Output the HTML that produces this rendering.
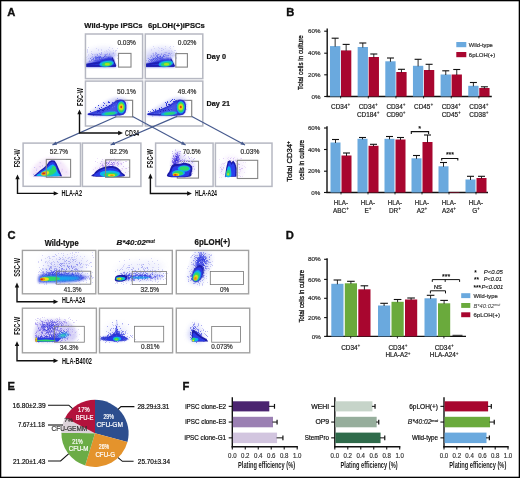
<!DOCTYPE html>
<html><head><meta charset="utf-8"><style>
html,body{margin:0;padding:0;background:#fff;}
svg{display:block;will-change:transform;}
text{font-family:"Liberation Sans", sans-serif;}
</style></head><body>
<svg width="520" height="478" viewBox="0 0 520 478">
<rect x="0" y="0" width="520" height="478" fill="#fff"/>
<text x="7.30" y="16.10" font-size="11.2" stroke="#111" stroke-width="0.35" font-weight="bold" fill="#111">A</text>
<text x="84.30" y="28.20" font-size="7.6" stroke="#111" stroke-width="0.2" font-weight="bold" fill="#111" textLength="58.30" lengthAdjust="spacingAndGlyphs">Wild-type iPSCs</text>
<text x="148.00" y="28.20" font-size="7.6" stroke="#111" stroke-width="0.2" font-weight="bold" fill="#111" textLength="56.90" lengthAdjust="spacingAndGlyphs">6pLOH(+)iPSCs</text>
<text x="206.60" y="58.80" font-size="7.6" stroke="#111" stroke-width="0.2" font-weight="bold" fill="#111" textLength="19.40" lengthAdjust="spacingAndGlyphs">Day 0</text>
<text x="206.60" y="105.80" font-size="7.6" stroke="#111" stroke-width="0.2" font-weight="bold" fill="#111" textLength="23.40" lengthAdjust="spacingAndGlyphs">Day 21</text>
<rect x="116.00" y="100.30" width="16.60" height="16.60" fill="none" stroke="#858585" stroke-width="1.2"/>
<rect x="176.80" y="100.40" width="14.90" height="16.30" fill="none" stroke="#858585" stroke-width="1.2"/>
<rect x="177.30" y="161.30" width="21.20" height="16.80" fill="none" stroke="#858585" stroke-width="1.1"/>
<defs><filter id="f30" x="-30%" y="-30%" width="160%" height="160%"><feGaussianBlur stdDeviation="0.3"/></filter><filter id="f35" x="-30%" y="-30%" width="160%" height="160%"><feGaussianBlur stdDeviation="0.35"/></filter><filter id="f40" x="-30%" y="-30%" width="160%" height="160%"><feGaussianBlur stdDeviation="0.4"/></filter><filter id="f45" x="-30%" y="-30%" width="160%" height="160%"><feGaussianBlur stdDeviation="0.45"/></filter><filter id="f50" x="-30%" y="-30%" width="160%" height="160%"><feGaussianBlur stdDeviation="0.5"/></filter><filter id="f55" x="-30%" y="-30%" width="160%" height="160%"><feGaussianBlur stdDeviation="0.55"/></filter><filter id="f60" x="-30%" y="-30%" width="160%" height="160%"><feGaussianBlur stdDeviation="0.6"/></filter><filter id="f65" x="-30%" y="-30%" width="160%" height="160%"><feGaussianBlur stdDeviation="0.65"/></filter><filter id="f70" x="-30%" y="-30%" width="160%" height="160%"><feGaussianBlur stdDeviation="0.7"/></filter><filter id="f80" x="-30%" y="-30%" width="160%" height="160%"><feGaussianBlur stdDeviation="0.8"/></filter><filter id="f90" x="-30%" y="-30%" width="160%" height="160%"><feGaussianBlur stdDeviation="0.9"/></filter><filter id="f110" x="-30%" y="-30%" width="160%" height="160%"><feGaussianBlur stdDeviation="1.1"/></filter><filter id="f140" x="-30%" y="-30%" width="160%" height="160%"><feGaussianBlur stdDeviation="1.4"/></filter><filter id="f150" x="-30%" y="-30%" width="160%" height="160%"><feGaussianBlur stdDeviation="1.5"/></filter><filter id="f160" x="-30%" y="-30%" width="160%" height="160%"><feGaussianBlur stdDeviation="1.6"/></filter><filter id="f170" x="-30%" y="-30%" width="160%" height="160%"><feGaussianBlur stdDeviation="1.7"/></filter><filter id="f180" x="-30%" y="-30%" width="160%" height="160%"><feGaussianBlur stdDeviation="1.8"/></filter><filter id="f200" x="-30%" y="-30%" width="160%" height="160%"><feGaussianBlur stdDeviation="2.0"/></filter><filter id="f210" x="-30%" y="-30%" width="160%" height="160%"><feGaussianBlur stdDeviation="2.1"/></filter><filter id="f220" x="-30%" y="-30%" width="160%" height="160%"><feGaussianBlur stdDeviation="2.2"/></filter><filter id="f240" x="-30%" y="-30%" width="160%" height="160%"><feGaussianBlur stdDeviation="2.4"/></filter><filter id="f300" x="-30%" y="-30%" width="160%" height="160%"><feGaussianBlur stdDeviation="3.0"/></filter><filter id="f360" x="-30%" y="-30%" width="160%" height="160%"><feGaussianBlur stdDeviation="3.6"/></filter><filter id="f390" x="-30%" y="-30%" width="160%" height="160%"><feGaussianBlur stdDeviation="3.9"/></filter></defs>
<ellipse cx="104.0" cy="57.5" rx="13.5" ry="4.199999999999999" fill="#7078ea" transform="rotate(-15 104.0 57.5)" opacity="0.41" filter="url(#f170)"/><ellipse cx="100.0" cy="52.5" rx="15.0" ry="5.4" fill="#7078ea" transform="rotate(-8 100.0 52.5)" opacity="0.13" filter="url(#f220)"/><ellipse cx="93.0" cy="59.0" rx="9.0" ry="4.5" fill="#7078ea" transform="rotate(-20 93.0 59.0)" opacity="0.28" filter="url(#f180)"/><g filter="url(#f70)"><path fill="#d6d6f8" d="M88 47h1v1h-1zM109 47h1v1h-1zM96 48h1v1h-1zM112 48h1v1h-1zM117 48h1v1h-1zM87 49h1v1h-1zM98 49h1v1h-1zM101 49h1v1h-1zM108 49h1v1h-1zM87 50h1v1h-1zM98 50h1v1h-1zM101 50h1v1h-1zM106 50h1v1h-1zM109 50h1v1h-1zM113 50h1v1h-1zM115 50h1v1h-1zM116 50h1v1h-1zM87 51h1v1h-1zM91 51h1v1h-1zM104 51h1v1h-1zM106 51h1v1h-1zM107 51h1v1h-1zM110 51h1v1h-1zM115 51h1v1h-1zM87 52h1v1h-1zM105 52h1v1h-1zM111 52h1v1h-1zM96 53h1v1h-1zM108 53h1v1h-1zM115 53h1v1h-1zM88 54h1v1h-1zM93 54h1v1h-1zM98 54h1v1h-1zM88 55h1v1h-1zM90 55h1v1h-1zM91 55h1v1h-1zM93 55h1v1h-1zM117 55h1v1h-1zM87 56h1v1h-1zM86 57h1v1h-1zM112 57h1v1h-1zM117 58h1v1h-1zM86 59h1v1h-1zM114 59h1v1h-1zM86 60h1v1h-1zM103 60h1v1h-1zM105 60h1v1h-1zM107 60h1v1h-1zM108 60h1v1h-1zM114 60h1v1h-1zM86 62h1v1h-1zM89 62h1v1h-1zM90 62h1v1h-1zM91 62h1v1h-1zM92 62h1v1h-1zM94 63h1v1h-1zM96 63h1v1h-1zM100 63h1v1h-1zM95 64h1v1h-1zM94 65h1v1h-1zM94 66h1v1h-1z"/><path fill="#acaef2" d="M101 52h1v1h-1zM99 53h1v1h-1zM101 53h1v1h-1zM107 53h1v1h-1zM109 53h1v1h-1zM113 53h1v1h-1zM92 54h1v1h-1zM101 54h1v1h-1zM104 54h1v1h-1zM107 54h1v1h-1zM99 55h1v1h-1zM104 55h1v1h-1zM92 56h1v1h-1zM97 56h1v1h-1zM91 57h1v1h-1zM92 57h1v1h-1zM93 57h1v1h-1zM102 58h1v1h-1zM94 59h1v1h-1zM89 60h1v1h-1zM90 61h1v1h-1zM94 62h1v1h-1z"/><path fill="#c2c4f6" d="M113 52h1v1h-1zM91 53h1v1h-1zM112 53h1v1h-1zM94 54h1v1h-1zM95 54h1v1h-1zM96 54h1v1h-1zM102 54h1v1h-1zM108 54h1v1h-1zM112 54h1v1h-1zM94 55h1v1h-1zM96 55h1v1h-1zM101 55h1v1h-1zM114 55h1v1h-1zM106 57h1v1h-1zM88 58h1v1h-1zM111 58h1v1h-1zM100 60h1v1h-1zM102 60h1v1h-1zM104 60h1v1h-1zM106 60h1v1h-1zM88 61h1v1h-1zM91 61h1v1h-1zM96 61h1v1h-1zM91 63h1v1h-1z"/><path fill="#9498f0" d="M97 54h1v1h-1zM100 54h1v1h-1zM105 54h1v1h-1zM106 54h1v1h-1zM109 54h1v1h-1zM97 55h1v1h-1zM96 56h1v1h-1zM105 56h1v1h-1zM106 56h1v1h-1zM94 57h1v1h-1zM102 57h1v1h-1zM105 58h1v1h-1zM91 59h1v1h-1zM98 59h1v1h-1zM100 59h1v1h-1zM101 59h1v1h-1zM93 60h1v1h-1zM98 60h1v1h-1zM89 61h1v1h-1z"/><path fill="#7c80ec" d="M105 55h1v1h-1zM95 56h1v1h-1zM98 56h1v1h-1zM99 56h1v1h-1zM101 57h1v1h-1zM108 57h1v1h-1zM90 58h1v1h-1zM97 58h1v1h-1zM98 58h1v1h-1zM101 58h1v1h-1zM92 59h1v1h-1zM93 59h1v1h-1zM95 59h1v1h-1zM96 59h1v1h-1zM97 59h1v1h-1zM102 59h1v1h-1zM91 60h1v1h-1zM94 60h1v1h-1zM96 60h1v1h-1zM97 60h1v1h-1z"/><path fill="#646aea" d="M100 56h1v1h-1zM104 56h1v1h-1zM95 57h1v1h-1zM96 57h1v1h-1zM98 57h1v1h-1zM100 57h1v1h-1zM103 57h1v1h-1zM93 58h1v1h-1zM95 58h1v1h-1zM96 58h1v1h-1zM99 58h1v1h-1zM99 59h1v1h-1zM95 60h1v1h-1z"/><path fill="#4e56e4" d="M97 57h1v1h-1zM99 57h1v1h-1z"/></g><path d="M86.10 66.70L86.10 63.70L92.10 61.90L98.10 59.90L103.10 58.00L106.30 57.40L109.50 56.20L111.90 57.10L113.50 59.70L115.60 65.70L116.00 66.70Z" fill="#3038dc" filter="url(#f80)"/><path d="M86.10 66.70L86.10 64.30L98.10 61.50L107.30 58.80L111.90 58.80L115.40 65.90L116.00 66.70Z" fill="#2830d4" filter="url(#f60)"/><path d="M86.10 65.90L116.00 66.00" stroke="#1a1aa8" stroke-width="1.5" filter="url(#f45)"/><path d="M86.10 64.50L100.10 62.70" stroke="#1a1aa8" stroke-width="1.6" opacity="0.8" filter="url(#f60)"/><path d="M112.10 57.40L115.70 66.00" stroke="#1a1aa8" stroke-width="1.3" filter="url(#f45)"/><ellipse cx="106.6" cy="63.699999999999996" rx="7.2" ry="3.0" fill="#10b4ee" transform="rotate(-8 106.6 63.699999999999996)" filter="url(#f65)"/><ellipse cx="107.0" cy="64.1" rx="5.2" ry="2.1" fill="#2ed868" transform="rotate(-8 107.0 64.1)" filter="url(#f60)"/><ellipse cx="107.3" cy="64.3" rx="2.7" ry="1.2" fill="#a8e224" filter="url(#f50)"/>
<ellipse cx="162.60000000000002" cy="57.5" rx="13.5" ry="4.199999999999999" fill="#7078ea" transform="rotate(-15 162.60000000000002 57.5)" opacity="0.41" filter="url(#f170)"/><ellipse cx="158.60000000000002" cy="52.5" rx="15.0" ry="5.4" fill="#7078ea" transform="rotate(-8 158.60000000000002 52.5)" opacity="0.21" filter="url(#f220)"/><ellipse cx="151.60000000000002" cy="59.0" rx="9.0" ry="4.5" fill="#7078ea" transform="rotate(-20 151.60000000000002 59.0)" opacity="0.28" filter="url(#f180)"/><g filter="url(#f70)"><path fill="#d6d6f8" d="M153 46h1v1h-1zM165 46h1v1h-1zM170 46h1v1h-1zM173 46h1v1h-1zM158 47h1v1h-1zM169 47h1v1h-1zM154 48h1v1h-1zM159 48h1v1h-1zM162 48h1v1h-1zM165 48h1v1h-1zM170 48h1v1h-1zM151 49h1v1h-1zM151 50h1v1h-1zM158 50h1v1h-1zM162 50h1v1h-1zM168 50h1v1h-1zM169 50h1v1h-1zM171 50h1v1h-1zM174 50h1v1h-1zM175 50h1v1h-1zM159 51h1v1h-1zM165 51h1v1h-1zM171 51h1v1h-1zM172 51h1v1h-1zM153 52h1v1h-1zM158 52h1v1h-1zM159 52h1v1h-1zM174 52h1v1h-1zM176 52h1v1h-1zM145 53h1v1h-1zM154 53h1v1h-1zM173 53h1v1h-1zM145 54h1v1h-1zM150 54h1v1h-1zM171 54h1v1h-1zM172 54h1v1h-1zM147 55h1v1h-1zM148 55h1v1h-1zM174 55h1v1h-1zM175 55h1v1h-1zM149 56h1v1h-1zM169 56h1v1h-1zM171 56h1v1h-1zM176 57h1v1h-1zM169 58h1v1h-1zM176 58h1v1h-1zM167 59h1v1h-1zM170 59h1v1h-1zM166 60h1v1h-1zM172 60h1v1h-1zM165 61h1v1h-1zM168 61h1v1h-1zM152 62h1v1h-1zM153 62h1v1h-1zM154 62h1v1h-1zM158 62h1v1h-1zM159 62h1v1h-1zM161 62h1v1h-1zM162 62h1v1h-1zM145 63h1v1h-1zM149 63h1v1h-1zM154 64h1v1h-1zM145 65h1v1h-1zM153 66h1v1h-1z"/><path fill="#c2c4f6" d="M161 48h1v1h-1zM163 49h1v1h-1zM161 50h1v1h-1zM156 52h1v1h-1zM164 52h1v1h-1zM169 52h1v1h-1zM152 53h1v1h-1zM163 53h1v1h-1zM164 53h1v1h-1zM150 55h1v1h-1zM172 55h1v1h-1zM168 56h1v1h-1zM147 58h1v1h-1zM170 58h1v1h-1zM165 59h1v1h-1zM166 59h1v1h-1zM161 60h1v1h-1zM165 60h1v1h-1zM150 61h1v1h-1zM157 61h1v1h-1zM158 61h1v1h-1zM149 62h1v1h-1zM151 62h1v1h-1zM156 62h1v1h-1z"/><path fill="#acaef2" d="M155 52h1v1h-1zM165 52h1v1h-1zM166 52h1v1h-1zM153 53h1v1h-1zM155 53h1v1h-1zM161 53h1v1h-1zM171 53h1v1h-1zM153 54h1v1h-1zM159 54h1v1h-1zM163 54h1v1h-1zM170 54h1v1h-1zM151 55h1v1h-1zM154 55h1v1h-1zM153 56h1v1h-1zM154 56h1v1h-1zM165 56h1v1h-1zM166 56h1v1h-1zM166 57h1v1h-1zM170 57h1v1h-1zM163 58h1v1h-1zM146 60h1v1h-1zM155 60h1v1h-1zM157 60h1v1h-1zM162 60h1v1h-1zM148 61h1v1h-1zM150 62h1v1h-1z"/><path fill="#9498f0" d="M156 53h1v1h-1zM168 53h1v1h-1zM169 53h1v1h-1zM155 54h1v1h-1zM157 54h1v1h-1zM161 54h1v1h-1zM165 54h1v1h-1zM153 55h1v1h-1zM160 55h1v1h-1zM165 55h1v1h-1zM166 55h1v1h-1zM167 55h1v1h-1zM151 56h1v1h-1zM162 56h1v1h-1zM150 57h1v1h-1zM152 57h1v1h-1zM148 58h1v1h-1zM152 58h1v1h-1zM161 58h1v1h-1zM162 58h1v1h-1zM150 59h1v1h-1zM154 59h1v1h-1zM156 59h1v1h-1zM164 59h1v1h-1zM148 60h1v1h-1zM149 61h1v1h-1zM153 61h1v1h-1zM155 61h1v1h-1z"/><path fill="#7c80ec" d="M158 54h1v1h-1zM164 54h1v1h-1zM156 55h1v1h-1zM157 55h1v1h-1zM168 55h1v1h-1zM156 56h1v1h-1zM159 56h1v1h-1zM164 56h1v1h-1zM159 57h1v1h-1zM160 57h1v1h-1zM161 57h1v1h-1zM155 58h1v1h-1zM157 58h1v1h-1zM158 58h1v1h-1zM149 59h1v1h-1zM152 59h1v1h-1zM150 60h1v1h-1zM151 60h1v1h-1zM154 60h1v1h-1zM156 60h1v1h-1zM151 61h1v1h-1z"/><path fill="#646aea" d="M163 55h1v1h-1zM157 56h1v1h-1zM163 56h1v1h-1zM155 57h1v1h-1zM158 57h1v1h-1zM162 57h1v1h-1zM153 58h1v1h-1zM154 58h1v1h-1zM159 58h1v1h-1zM160 58h1v1h-1zM151 59h1v1h-1zM155 59h1v1h-1zM157 59h1v1h-1zM152 60h1v1h-1z"/><path fill="#4e56e4" d="M160 56h1v1h-1zM157 57h1v1h-1zM156 58h1v1h-1zM153 59h1v1h-1z"/></g><path d="M145.30 66.70L145.30 63.70L151.30 61.90L157.30 59.90L162.30 58.00L164.90 58.80L168.10 57.60L170.50 58.50L172.10 61.10L174.20 65.70L174.60 66.70Z" fill="#3038dc" filter="url(#f80)"/><path d="M145.30 66.70L145.30 64.30L157.30 61.50L165.90 60.20L170.50 60.20L174.00 65.90L174.60 66.70Z" fill="#2830d4" filter="url(#f60)"/><path d="M145.30 65.90L174.60 66.00" stroke="#1a1aa8" stroke-width="1.5" filter="url(#f45)"/><path d="M145.30 64.50L159.30 62.70" stroke="#1a1aa8" stroke-width="1.6" opacity="0.8" filter="url(#f60)"/><path d="M170.70 58.80L174.30 66.00" stroke="#1a1aa8" stroke-width="1.3" filter="url(#f45)"/><ellipse cx="165.79999999999998" cy="63.699999999999996" rx="7.2" ry="3.0" fill="#10b4ee" transform="rotate(-8 165.79999999999998 63.699999999999996)" filter="url(#f65)"/><ellipse cx="166.2" cy="64.1" rx="5.2" ry="2.1" fill="#2ed868" transform="rotate(-8 166.2 64.1)" filter="url(#f60)"/><ellipse cx="166.5" cy="64.3" rx="2.7" ry="1.2" fill="#a8e224" filter="url(#f50)"/>
<path d="M87.50 114.50C88.17 113.58 89.92 112.00 92.00 110.50C94.08 109.00 97.33 107.17 100.00 105.50C102.67 103.83 105.67 101.75 108.00 100.50C110.33 99.25 112.00 98.48 114.00 98.00C116.00 97.52 118.00 97.40 120.00 97.60C122.00 97.80 124.75 98.13 126.00 99.20C127.25 100.27 127.50 101.87 127.50 104.00C127.50 106.13 127.58 109.97 126.00 112.00C124.42 114.03 124.33 115.53 118.00 116.20C111.67 116.87 93.08 116.28 88.00 116.00C82.92 115.72 86.83 115.42 87.50 114.50Z" fill="#9094ee" opacity="0.38" filter="url(#f150)"/><g><rect x="97.0" y="107.7" width="1.0" height="1.0" fill="#b0b0f2" opacity="0.53"/><rect x="111.1" y="103.2" width="1.0" height="1.0" fill="#9aa0f0" opacity="0.46"/><rect x="116.3" y="113.9" width="1.0" height="1.0" fill="#b0b0f2" opacity="0.43"/><rect x="96.2" y="115.6" width="1.0" height="1.0" fill="#b0b0f2" opacity="0.60"/><rect x="110.5" y="107.5" width="1.0" height="1.0" fill="#8088ee" opacity="0.66"/><rect x="114.8" y="114.9" width="1.0" height="1.0" fill="#9aa0f0" opacity="0.70"/><rect x="110.3" y="110.9" width="1.0" height="1.0" fill="#8088ee" opacity="0.53"/><rect x="127.0" y="102.6" width="1.0" height="1.0" fill="#b0b0f2" opacity="0.63"/><rect x="119.5" y="105.2" width="1.0" height="1.0" fill="#9aa0f0" opacity="0.44"/><rect x="111.7" y="111.8" width="1.0" height="1.0" fill="#b0b0f2" opacity="0.57"/><rect x="100.7" y="114.0" width="1.0" height="1.0" fill="#9aa0f0" opacity="0.48"/><rect x="103.8" y="109.0" width="1.0" height="1.0" fill="#6a70e6" opacity="0.69"/><rect x="93.0" y="113.6" width="1.0" height="1.0" fill="#b0b0f2" opacity="0.46"/><rect x="108.3" y="109.6" width="1.0" height="1.0" fill="#6a70e6" opacity="0.53"/><rect x="125.1" y="107.0" width="1.0" height="1.0" fill="#8088ee" opacity="0.67"/><rect x="101.1" y="112.3" width="1.0" height="1.0" fill="#9aa0f0" opacity="0.26"/><rect x="112.1" y="109.4" width="1.0" height="1.0" fill="#9aa0f0" opacity="0.46"/><rect x="117.0" y="98.0" width="1.0" height="1.0" fill="#6a70e6" opacity="0.68"/><rect x="116.9" y="103.4" width="1.0" height="1.0" fill="#9aa0f0" opacity="0.36"/><rect x="100.9" y="113.1" width="1.0" height="1.0" fill="#b0b0f2" opacity="0.61"/><rect x="98.3" y="112.2" width="1.0" height="1.0" fill="#6a70e6" opacity="0.49"/><rect x="95.1" y="112.6" width="1.0" height="1.0" fill="#8088ee" opacity="0.64"/><rect x="101.1" y="113.0" width="1.0" height="1.0" fill="#6a70e6" opacity="0.61"/><rect x="99.2" y="112.4" width="1.0" height="1.0" fill="#9aa0f0" opacity="0.46"/><rect x="120.8" y="109.2" width="1.0" height="1.0" fill="#8088ee" opacity="0.26"/><rect x="105.8" y="111.6" width="1.0" height="1.0" fill="#9aa0f0" opacity="0.49"/><rect x="107.6" y="102.0" width="1.0" height="1.0" fill="#b0b0f2" opacity="0.27"/><rect x="92.4" y="114.1" width="1.0" height="1.0" fill="#6a70e6" opacity="0.33"/><rect x="119.2" y="114.7" width="1.0" height="1.0" fill="#8088ee" opacity="0.62"/><rect x="98.2" y="107.4" width="1.0" height="1.0" fill="#b0b0f2" opacity="0.40"/><rect x="120.3" y="113.5" width="1.0" height="1.0" fill="#8088ee" opacity="0.27"/><rect x="108.1" y="106.7" width="1.0" height="1.0" fill="#6a70e6" opacity="0.41"/><rect x="113.4" y="108.5" width="1.0" height="1.0" fill="#8088ee" opacity="0.69"/><rect x="119.3" y="108.1" width="1.0" height="1.0" fill="#b0b0f2" opacity="0.52"/><rect x="112.4" y="105.6" width="1.0" height="1.0" fill="#b0b0f2" opacity="0.59"/><rect x="100.1" y="115.3" width="1.0" height="1.0" fill="#b0b0f2" opacity="0.46"/><rect x="104.5" y="114.0" width="1.0" height="1.0" fill="#9aa0f0" opacity="0.42"/><rect x="123.4" y="112.3" width="1.0" height="1.0" fill="#9aa0f0" opacity="0.30"/><rect x="115.1" y="115.1" width="1.0" height="1.0" fill="#b0b0f2" opacity="0.55"/><rect x="116.8" y="108.1" width="1.0" height="1.0" fill="#6a70e6" opacity="0.46"/><rect x="102.5" y="112.8" width="1.0" height="1.0" fill="#9aa0f0" opacity="0.63"/><rect x="92.4" y="113.3" width="1.0" height="1.0" fill="#b0b0f2" opacity="0.63"/><rect x="108.0" y="110.9" width="1.0" height="1.0" fill="#6a70e6" opacity="0.50"/><rect x="109.5" y="113.8" width="1.0" height="1.0" fill="#8088ee" opacity="0.62"/><rect x="97.5" y="109.1" width="1.0" height="1.0" fill="#b0b0f2" opacity="0.36"/></g><path d="M87.60 115.00L87.80 113.40L95.00 111.20L100.00 109.60L105.00 107.40L110.00 104.90L113.00 102.80L115.50 100.90L117.50 100.00L120.50 99.60L123.50 100.10L125.60 101.90L126.40 105.00L126.40 109.00L125.60 112.50L123.50 114.80L120.00 115.60L110.00 115.60L100.00 115.40L92.00 115.30Z" fill="#2a30cc" filter="url(#f55)"/><path d="M91.00 114.40C90.33 113.97 94.33 112.83 96.00 112.20C97.67 111.57 99.33 111.20 101.00 110.60C102.67 110.00 104.33 109.33 106.00 108.60C107.67 107.87 109.58 107.03 111.00 106.20C112.42 105.37 113.50 104.30 114.50 103.60C115.50 102.90 116.50 100.93 117.00 102.00C117.50 103.07 117.67 107.90 117.50 110.00C117.33 112.10 118.92 113.80 116.00 114.60C113.08 115.40 104.17 114.83 100.00 114.80C95.83 114.77 91.67 114.83 91.00 114.40Z" fill="#4654e6" filter="url(#f80)"/><g filter="url(#f50)"><path fill="#6068e8" d="M108 101h1v1h-1zM114 106h1v1h-1zM112 107h1v1h-1zM114 111h1v1h-1zM93 115h1v1h-1z"/><path fill="#7880ec" d="M103 102h1v1h-1z"/><path fill="#3440e0" d="M108 102h1v1h-1zM116 102h1v1h-1zM98 105h1v1h-1zM103 105h1v1h-1zM106 105h1v1h-1zM110 105h1v1h-1zM111 106h1v1h-1zM101 107h1v1h-1zM103 111h1v1h-1zM92 112h1v1h-1zM93 112h1v1h-1zM99 112h1v1h-1zM100 112h1v1h-1zM102 112h1v1h-1zM93 114h1v1h-1z"/><path fill="#2a32d4" d="M109 102h1v1h-1zM108 106h1v1h-1zM105 107h1v1h-1zM106 107h1v1h-1zM108 107h1v1h-1zM99 108h1v1h-1zM109 108h1v1h-1zM107 109h1v1h-1zM97 110h1v1h-1zM97 111h1v1h-1zM99 111h1v1h-1zM97 112h1v1h-1z"/><path fill="#4a54e4" d="M112 102h1v1h-1zM104 103h1v1h-1zM116 103h1v1h-1zM113 104h1v1h-1zM112 106h1v1h-1zM95 107h1v1h-1zM90 111h1v1h-1z"/><path fill="#2228c0" d="M109 105h1v1h-1zM100 109h1v1h-1zM104 109h1v1h-1zM98 110h1v1h-1zM99 110h1v1h-1zM102 110h1v1h-1zM103 110h1v1h-1zM98 111h1v1h-1z"/></g><path d="M88.50 114.60L116.00 115.10" stroke="#1a1aa8" stroke-width="1.0" opacity="0.85" filter="url(#f45)"/><ellipse cx="109.5" cy="113.4" rx="8.2" ry="1.8" fill="#10b4ee" transform="rotate(-6 109.5 113.4)" filter="url(#f60)"/><ellipse cx="110.0" cy="113.5" rx="5.8" ry="1.25" fill="#2ed868" transform="rotate(-6 110.0 113.5)" filter="url(#f55)"/><ellipse cx="121.19999999999999" cy="107.2" rx="4.1" ry="6.3" fill="#10a8ec" filter="url(#f55)"/><ellipse cx="121.19999999999999" cy="107.1" rx="3.4" ry="5.2" fill="#2ed868" filter="url(#f50)"/><ellipse cx="121.19999999999999" cy="107.0" rx="2.5" ry="3.6" fill="#a8e028" filter="url(#f50)"/><ellipse cx="121.19999999999999" cy="106.89999999999999" rx="1.8" ry="2.5" fill="#e8e418" filter="url(#f45)"/><ellipse cx="121.19999999999999" cy="106.89999999999999" rx="1.2" ry="1.7" fill="#ee8a10" filter="url(#f40)"/><ellipse cx="121.19999999999999" cy="106.89999999999999" rx="0.7" ry="1.0" fill="#d42a14" filter="url(#f30)"/>
<path d="M147.10 114.50C147.77 113.58 149.52 112.00 151.60 110.50C153.68 109.00 156.93 107.17 159.60 105.50C162.27 103.83 165.27 101.75 167.60 100.50C169.93 99.25 171.60 98.48 173.60 98.00C175.60 97.52 177.60 97.40 179.60 97.60C181.60 97.80 184.35 98.13 185.60 99.20C186.85 100.27 187.10 101.87 187.10 104.00C187.10 106.13 187.18 109.97 185.60 112.00C184.02 114.03 183.93 115.53 177.60 116.20C171.27 116.87 152.68 116.28 147.60 116.00C142.52 115.72 146.43 115.42 147.10 114.50Z" fill="#9094ee" opacity="0.38" filter="url(#f150)"/><g><rect x="183.8" y="112.5" width="1.0" height="1.0" fill="#6a70e6" opacity="0.35"/><rect x="168.6" y="102.7" width="1.0" height="1.0" fill="#6a70e6" opacity="0.37"/><rect x="158.3" y="115.2" width="1.0" height="1.0" fill="#9aa0f0" opacity="0.25"/><rect x="158.8" y="110.7" width="1.0" height="1.0" fill="#9aa0f0" opacity="0.63"/><rect x="159.3" y="112.7" width="1.0" height="1.0" fill="#6a70e6" opacity="0.29"/><rect x="167.9" y="109.7" width="1.0" height="1.0" fill="#8088ee" opacity="0.70"/><rect x="155.2" y="109.4" width="1.0" height="1.0" fill="#9aa0f0" opacity="0.45"/><rect x="170.7" y="109.4" width="1.0" height="1.0" fill="#9aa0f0" opacity="0.30"/><rect x="177.7" y="109.0" width="1.0" height="1.0" fill="#9aa0f0" opacity="0.67"/><rect x="173.2" y="113.6" width="1.0" height="1.0" fill="#6a70e6" opacity="0.38"/><rect x="185.6" y="103.8" width="1.0" height="1.0" fill="#6a70e6" opacity="0.45"/><rect x="161.7" y="112.6" width="1.0" height="1.0" fill="#9aa0f0" opacity="0.51"/><rect x="183.8" y="99.7" width="1.0" height="1.0" fill="#8088ee" opacity="0.52"/><rect x="185.9" y="108.9" width="1.0" height="1.0" fill="#8088ee" opacity="0.39"/><rect x="164.7" y="106.8" width="1.0" height="1.0" fill="#b0b0f2" opacity="0.36"/><rect x="182.7" y="113.1" width="1.0" height="1.0" fill="#b0b0f2" opacity="0.33"/><rect x="168.1" y="112.0" width="1.0" height="1.0" fill="#b0b0f2" opacity="0.64"/><rect x="163.2" y="114.4" width="1.0" height="1.0" fill="#6a70e6" opacity="0.47"/><rect x="179.1" y="109.6" width="1.0" height="1.0" fill="#8088ee" opacity="0.54"/><rect x="152.2" y="115.6" width="1.0" height="1.0" fill="#6a70e6" opacity="0.64"/><rect x="177.9" y="104.7" width="1.0" height="1.0" fill="#6a70e6" opacity="0.65"/><rect x="155.2" y="110.1" width="1.0" height="1.0" fill="#9aa0f0" opacity="0.62"/><rect x="169.6" y="112.2" width="1.0" height="1.0" fill="#b0b0f2" opacity="0.26"/><rect x="166.7" y="113.7" width="1.0" height="1.0" fill="#8088ee" opacity="0.27"/><rect x="150.3" y="114.0" width="1.0" height="1.0" fill="#6a70e6" opacity="0.38"/><rect x="185.5" y="106.0" width="1.0" height="1.0" fill="#9aa0f0" opacity="0.42"/><rect x="177.4" y="113.5" width="1.0" height="1.0" fill="#b0b0f2" opacity="0.29"/><rect x="182.5" y="107.1" width="1.0" height="1.0" fill="#b0b0f2" opacity="0.28"/><rect x="153.8" y="113.9" width="1.0" height="1.0" fill="#8088ee" opacity="0.57"/><rect x="160.2" y="113.6" width="1.0" height="1.0" fill="#9aa0f0" opacity="0.49"/><rect x="183.3" y="110.8" width="1.0" height="1.0" fill="#6a70e6" opacity="0.54"/><rect x="178.5" y="108.8" width="1.0" height="1.0" fill="#8088ee" opacity="0.44"/><rect x="154.3" y="113.7" width="1.0" height="1.0" fill="#6a70e6" opacity="0.55"/><rect x="165.8" y="114.6" width="1.0" height="1.0" fill="#9aa0f0" opacity="0.67"/><rect x="171.0" y="115.9" width="1.0" height="1.0" fill="#9aa0f0" opacity="0.31"/><rect x="162.0" y="108.3" width="1.0" height="1.0" fill="#6a70e6" opacity="0.28"/><rect x="172.9" y="114.4" width="1.0" height="1.0" fill="#9aa0f0" opacity="0.54"/><rect x="179.1" y="112.6" width="1.0" height="1.0" fill="#6a70e6" opacity="0.32"/><rect x="184.6" y="111.7" width="1.0" height="1.0" fill="#6a70e6" opacity="0.33"/><rect x="166.3" y="114.1" width="1.0" height="1.0" fill="#8088ee" opacity="0.53"/><rect x="168.7" y="110.5" width="1.0" height="1.0" fill="#9aa0f0" opacity="0.43"/><rect x="183.5" y="111.7" width="1.0" height="1.0" fill="#b0b0f2" opacity="0.35"/><rect x="159.1" y="115.2" width="1.0" height="1.0" fill="#8088ee" opacity="0.43"/><rect x="170.4" y="109.1" width="1.0" height="1.0" fill="#9aa0f0" opacity="0.26"/><rect x="156.9" y="111.6" width="1.0" height="1.0" fill="#8088ee" opacity="0.26"/></g><path d="M147.20 115.00L147.40 113.40L154.60 111.20L159.60 109.60L164.60 107.40L169.60 104.90L172.60 102.80L175.10 100.90L177.10 100.00L180.10 99.60L183.10 100.10L185.20 101.90L186.00 105.00L186.00 109.00L185.20 112.50L183.10 114.80L179.60 115.60L169.60 115.60L159.60 115.40L151.60 115.30Z" fill="#2a30cc" filter="url(#f55)"/><path d="M150.60 114.40C149.93 113.97 153.93 112.83 155.60 112.20C157.27 111.57 158.93 111.20 160.60 110.60C162.27 110.00 163.93 109.33 165.60 108.60C167.27 107.87 169.18 107.03 170.60 106.20C172.02 105.37 173.10 104.30 174.10 103.60C175.10 102.90 176.10 100.93 176.60 102.00C177.10 103.07 177.27 107.90 177.10 110.00C176.93 112.10 178.52 113.80 175.60 114.60C172.68 115.40 163.77 114.83 159.60 114.80C155.43 114.77 151.27 114.83 150.60 114.40Z" fill="#4654e6" filter="url(#f80)"/><g filter="url(#f50)"><path fill="#3440e0" d="M172 99h1v1h-1zM173 101h1v1h-1zM165 102h1v1h-1zM166 104h1v1h-1zM171 109h1v1h-1zM153 110h1v1h-1zM155 110h1v1h-1zM157 110h1v1h-1zM163 111h1v1h-1zM155 112h1v1h-1zM157 112h1v1h-1z"/><path fill="#4a54e4" d="M174 99h1v1h-1zM171 100h1v1h-1zM177 100h1v1h-1zM170 101h1v1h-1zM173 102h1v1h-1zM176 104h1v1h-1zM172 105h1v1h-1zM161 107h1v1h-1zM173 107h1v1h-1zM155 109h1v1h-1zM154 113h1v1h-1zM164 114h1v1h-1z"/><path fill="#6068e8" d="M175 100h1v1h-1zM167 101h1v1h-1zM171 108h1v1h-1zM170 110h1v1h-1zM148 111h1v1h-1zM159 113h1v1h-1z"/><path fill="#2a32d4" d="M174 101h1v1h-1zM167 102h1v1h-1zM166 103h1v1h-1zM168 104h1v1h-1zM171 104h1v1h-1zM166 105h1v1h-1zM164 108h1v1h-1zM159 109h1v1h-1zM169 110h1v1h-1z"/><path fill="#2228c0" d="M169 104h1v1h-1zM170 105h1v1h-1zM167 106h1v1h-1zM159 108h1v1h-1zM161 109h1v1h-1zM168 109h1v1h-1zM163 110h1v1h-1zM165 110h1v1h-1zM160 111h1v1h-1z"/><path fill="#7880ec" d="M152 109h1v1h-1zM150 111h1v1h-1z"/></g><path d="M148.10 114.60L175.60 115.10" stroke="#1a1aa8" stroke-width="1.0" opacity="0.85" filter="url(#f45)"/><ellipse cx="169.1" cy="113.4" rx="8.2" ry="1.8" fill="#10b4ee" transform="rotate(-6 169.1 113.4)" filter="url(#f60)"/><ellipse cx="169.6" cy="113.5" rx="5.8" ry="1.25" fill="#2ed868" transform="rotate(-6 169.6 113.5)" filter="url(#f55)"/><ellipse cx="180.79999999999998" cy="107.2" rx="4.1" ry="6.3" fill="#10a8ec" filter="url(#f55)"/><ellipse cx="180.79999999999998" cy="107.1" rx="3.4" ry="5.2" fill="#2ed868" filter="url(#f50)"/><ellipse cx="180.79999999999998" cy="107.0" rx="2.5" ry="3.6" fill="#a8e028" filter="url(#f50)"/><ellipse cx="180.79999999999998" cy="106.89999999999999" rx="1.8" ry="2.5" fill="#e8e418" filter="url(#f45)"/><ellipse cx="180.79999999999998" cy="106.89999999999999" rx="1.2" ry="1.7" fill="#ee8a10" filter="url(#f40)"/><ellipse cx="180.79999999999998" cy="106.89999999999999" rx="0.7" ry="1.0" fill="#d42a14" filter="url(#f30)"/>
<path d="M33.00 168.00C34.17 165.42 37.17 162.75 40.00 161.00C42.83 159.25 47.00 157.83 50.00 157.50C53.00 157.17 55.33 157.58 58.00 159.00C60.67 160.42 64.33 163.08 66.00 166.00C67.67 168.92 73.50 174.75 68.00 176.50C62.50 178.25 38.83 177.92 33.00 176.50C27.17 175.08 31.83 170.58 33.00 168.00Z" fill="#e0b8f0" opacity="0.32" filter="url(#f150)"/><g><rect x="61.3" y="170.7" width="1.0" height="1.0" fill="#c0a0e8" opacity="0.52"/><rect x="55.8" y="169.3" width="1.0" height="1.0" fill="#c0a0e8" opacity="0.28"/><rect x="39.7" y="162.1" width="1.0" height="1.0" fill="#8080e8" opacity="0.40"/><rect x="36.0" y="169.9" width="1.0" height="1.0" fill="#c0a0e8" opacity="0.57"/><rect x="35.5" y="172.1" width="1.0" height="1.0" fill="#8080e8" opacity="0.30"/><rect x="33.6" y="170.5" width="1.0" height="1.0" fill="#d8b8f0" opacity="0.34"/><rect x="60.2" y="162.6" width="1.0" height="1.0" fill="#a0a0f0" opacity="0.26"/><rect x="47.4" y="175.0" width="1.0" height="1.0" fill="#d8b8f0" opacity="0.36"/><rect x="52.6" y="166.0" width="1.0" height="1.0" fill="#d8b8f0" opacity="0.44"/><rect x="33.0" y="173.9" width="1.0" height="1.0" fill="#a0a0f0" opacity="0.70"/><rect x="54.4" y="173.3" width="1.0" height="1.0" fill="#8080e8" opacity="0.28"/><rect x="36.2" y="168.6" width="1.0" height="1.0" fill="#a0a0f0" opacity="0.42"/><rect x="48.9" y="175.7" width="1.0" height="1.0" fill="#8080e8" opacity="0.62"/><rect x="52.4" y="170.6" width="1.0" height="1.0" fill="#8080e8" opacity="0.65"/><rect x="54.1" y="165.5" width="1.0" height="1.0" fill="#c0a0e8" opacity="0.48"/><rect x="41.9" y="171.6" width="1.0" height="1.0" fill="#8080e8" opacity="0.37"/><rect x="61.8" y="168.8" width="1.0" height="1.0" fill="#d8b8f0" opacity="0.67"/><rect x="49.8" y="169.9" width="1.0" height="1.0" fill="#c0a0e8" opacity="0.38"/><rect x="45.9" y="168.4" width="1.0" height="1.0" fill="#a0a0f0" opacity="0.31"/><rect x="51.3" y="175.5" width="1.0" height="1.0" fill="#c0a0e8" opacity="0.67"/><rect x="49.6" y="164.3" width="1.0" height="1.0" fill="#c0a0e8" opacity="0.26"/><rect x="44.2" y="176.5" width="1.0" height="1.0" fill="#c0a0e8" opacity="0.45"/><rect x="65.8" y="171.5" width="1.0" height="1.0" fill="#d8b8f0" opacity="0.61"/><rect x="57.0" y="174.6" width="1.0" height="1.0" fill="#8080e8" opacity="0.67"/><rect x="34.1" y="167.0" width="1.0" height="1.0" fill="#8080e8" opacity="0.42"/><rect x="42.0" y="165.4" width="1.0" height="1.0" fill="#8080e8" opacity="0.45"/><rect x="54.0" y="166.6" width="1.0" height="1.0" fill="#c0a0e8" opacity="0.47"/><rect x="54.5" y="175.0" width="1.0" height="1.0" fill="#a0a0f0" opacity="0.65"/><rect x="51.1" y="171.8" width="1.0" height="1.0" fill="#a0a0f0" opacity="0.55"/><rect x="48.5" y="174.4" width="1.0" height="1.0" fill="#a0a0f0" opacity="0.43"/><rect x="41.8" y="169.5" width="1.0" height="1.0" fill="#d8b8f0" opacity="0.65"/><rect x="46.5" y="168.6" width="1.0" height="1.0" fill="#d8b8f0" opacity="0.31"/><rect x="45.3" y="174.5" width="1.0" height="1.0" fill="#c0a0e8" opacity="0.57"/><rect x="38.9" y="166.1" width="1.0" height="1.0" fill="#d8b8f0" opacity="0.62"/><rect x="58.1" y="173.5" width="1.0" height="1.0" fill="#8080e8" opacity="0.39"/><rect x="55.7" y="168.2" width="1.0" height="1.0" fill="#8080e8" opacity="0.45"/><rect x="33.9" y="173.3" width="1.0" height="1.0" fill="#d8b8f0" opacity="0.60"/><rect x="60.9" y="176.2" width="1.0" height="1.0" fill="#c0a0e8" opacity="0.45"/><rect x="55.0" y="169.9" width="1.0" height="1.0" fill="#c0a0e8" opacity="0.56"/><rect x="40.0" y="166.5" width="1.0" height="1.0" fill="#c0a0e8" opacity="0.59"/><rect x="50.5" y="176.4" width="1.0" height="1.0" fill="#d8b8f0" opacity="0.43"/><rect x="60.7" y="174.7" width="1.0" height="1.0" fill="#c0a0e8" opacity="0.43"/><rect x="39.9" y="174.4" width="1.0" height="1.0" fill="#c0a0e8" opacity="0.42"/><rect x="52.9" y="174.2" width="1.0" height="1.0" fill="#a0a0f0" opacity="0.46"/><rect x="61.6" y="169.7" width="1.0" height="1.0" fill="#d8b8f0" opacity="0.36"/></g><path d="M33.30 176.30L36.00 174.00L40.00 170.50L44.00 167.50L47.00 164.50L49.00 161.50L51.50 160.20L54.50 160.50L56.50 163.50L58.50 168.00L60.50 172.50L62.00 176.30Z" fill="#1a1aa8" filter="url(#f50)"/><path d="M35.50 176.00L39.00 172.50L44.00 169.00L47.50 166.00L50.00 162.80L52.50 161.80L54.50 162.80L56.50 167.00L58.80 172.50L60.00 176.00Z" fill="#2c3ae6" filter="url(#f55)"/><path d="M37.50 176.00C34.57 175.43 39.58 173.73 41.00 172.60C42.42 171.47 44.50 170.33 46.00 169.20C47.50 168.07 48.80 166.57 50.00 165.80C51.20 165.03 52.27 164.32 53.20 164.60C54.13 164.88 54.83 166.18 55.60 167.50C56.37 168.82 57.30 171.08 57.80 172.50C58.30 173.92 61.98 175.42 58.60 176.00C55.22 176.58 40.43 176.57 37.50 176.00Z" fill="#10b4ee" filter="url(#f60)"/><ellipse cx="49.5" cy="172.4" rx="7.0" ry="3.0" fill="#2ed868" transform="rotate(-18 49.5 172.4)" filter="url(#f60)"/><ellipse cx="53.8" cy="169.0" rx="2.2" ry="3.0" fill="#2ed868" filter="url(#f60)"/><ellipse cx="45.2" cy="173.3" rx="3.9" ry="2.1" fill="#e8e418" transform="rotate(-15 45.2 173.3)" filter="url(#f50)"/><ellipse cx="44.0" cy="173.4" rx="2.6" ry="1.4" fill="#ee8a10" transform="rotate(-15 44.0 173.4)" filter="url(#f45)"/><ellipse cx="43.6" cy="173.4" rx="1.4" ry="0.85" fill="#d42a14" filter="url(#f35)"/>
<ellipse cx="111.5" cy="163.5" rx="11.25" ry="4.199999999999999" fill="#d0b0f0" opacity="0.34" filter="url(#f170)"/><ellipse cx="100" cy="169" rx="7.5" ry="4.5" fill="#d0b0f0" transform="rotate(-20 100 169)" opacity="0.18" filter="url(#f180)"/><ellipse cx="124" cy="172" rx="4.5" ry="6.0" fill="#d0b0f0" opacity="0.16" filter="url(#f180)"/><g filter="url(#f50)"><path fill="#eee2fa" d="M97 158h1v1h-1zM114 158h1v1h-1zM108 159h1v1h-1zM120 160h1v1h-1zM102 161h1v1h-1zM119 161h1v1h-1zM97 162h1v1h-1zM95 167h1v1h-1zM111 167h1v1h-1zM117 167h1v1h-1zM128 167h1v1h-1zM129 167h1v1h-1zM95 168h1v1h-1zM97 168h1v1h-1zM108 168h1v1h-1zM111 168h1v1h-1zM121 168h1v1h-1zM93 169h1v1h-1zM120 169h1v1h-1zM122 169h1v1h-1zM96 170h1v1h-1zM103 170h1v1h-1zM109 170h1v1h-1zM96 171h1v1h-1zM100 171h1v1h-1zM128 171h1v1h-1zM105 172h1v1h-1zM97 173h1v1h-1zM108 173h1v1h-1zM98 174h1v1h-1zM104 174h1v1h-1zM98 175h1v1h-1z"/><path fill="#e4d2f8" d="M102 159h1v1h-1zM95 161h1v1h-1zM106 161h1v1h-1zM115 161h1v1h-1zM125 161h1v1h-1zM126 161h1v1h-1zM102 163h1v1h-1zM120 163h1v1h-1zM117 164h1v1h-1zM115 166h1v1h-1zM118 166h1v1h-1zM105 168h1v1h-1zM114 168h1v1h-1zM122 168h1v1h-1zM125 168h1v1h-1zM105 170h1v1h-1zM119 170h1v1h-1zM121 170h1v1h-1zM100 172h1v1h-1zM94 175h1v1h-1z"/><path fill="#d8c2f6" d="M106 160h1v1h-1zM111 160h1v1h-1zM101 161h1v1h-1zM118 161h1v1h-1zM108 162h1v1h-1zM123 162h1v1h-1zM104 163h1v1h-1zM116 163h1v1h-1zM117 163h1v1h-1zM121 163h1v1h-1zM121 164h1v1h-1zM101 165h1v1h-1zM100 166h1v1h-1zM102 166h1v1h-1zM104 166h1v1h-1zM123 166h1v1h-1zM99 167h1v1h-1zM99 168h1v1h-1zM102 168h1v1h-1zM104 168h1v1h-1zM126 168h1v1h-1zM97 171h1v1h-1zM125 172h1v1h-1zM124 174h1v1h-1z"/><path fill="#c8aef2" d="M110 160h1v1h-1zM115 160h1v1h-1zM107 162h1v1h-1zM109 162h1v1h-1zM114 162h1v1h-1zM100 163h1v1h-1zM114 163h1v1h-1zM118 163h1v1h-1zM102 164h1v1h-1zM109 164h1v1h-1zM113 164h1v1h-1zM114 164h1v1h-1zM118 164h1v1h-1zM103 165h1v1h-1zM108 165h1v1h-1zM109 165h1v1h-1zM113 165h1v1h-1zM117 165h1v1h-1zM103 166h1v1h-1zM98 169h1v1h-1zM99 169h1v1h-1z"/><path fill="#b498ee" d="M105 161h1v1h-1zM109 161h1v1h-1zM117 162h1v1h-1zM107 164h1v1h-1zM110 164h1v1h-1zM112 164h1v1h-1zM102 165h1v1h-1zM106 165h1v1h-1zM112 165h1v1h-1zM111 166h1v1h-1z"/><path fill="#9c80e8" d="M106 162h1v1h-1zM111 162h1v1h-1zM113 162h1v1h-1zM106 163h1v1h-1zM112 163h1v1h-1zM111 164h1v1h-1z"/><path fill="#8060e0" d="M108 163h1v1h-1z"/></g><path d="M93.40 176.40C88.57 175.92 93.73 174.40 94.20 173.50C94.67 172.60 95.23 171.85 96.20 171.00C97.17 170.15 98.53 169.12 100.00 168.40C101.47 167.68 103.33 167.08 105.00 166.70C106.67 166.32 108.33 166.12 110.00 166.10C111.67 166.08 113.50 166.15 115.00 166.60C116.50 167.05 117.90 167.85 119.00 168.80C120.10 169.75 120.90 171.03 121.60 172.30C122.30 173.57 127.90 175.72 123.20 176.40C118.50 177.08 98.23 176.88 93.40 176.40Z" fill="#1a1aa8" filter="url(#f50)"/><path d="M95.50 176.00C91.53 175.43 96.58 173.60 97.50 172.60C98.42 171.60 99.67 170.68 101.00 170.00C102.33 169.32 104.00 168.83 105.50 168.50C107.00 168.17 108.50 168.00 110.00 168.00C111.50 168.00 113.13 168.10 114.50 168.50C115.87 168.90 117.23 169.62 118.20 170.40C119.17 171.18 119.78 172.27 120.30 173.20C120.82 174.13 125.43 175.53 121.30 176.00C117.17 176.47 99.47 176.57 95.50 176.00Z" fill="#2c3ae6" filter="url(#f55)"/><ellipse cx="109.8" cy="174.0" rx="10.2" ry="3.4" fill="#10b4ee" filter="url(#f60)"/><ellipse cx="110.6" cy="174.7" rx="7.2" ry="2.2" fill="#2ed868" filter="url(#f55)"/><ellipse cx="111.5" cy="175.2" rx="3.6" ry="1.25" fill="#e8e418" filter="url(#f50)"/><ellipse cx="111.8" cy="175.3" rx="1.9" ry="0.75" fill="#ee8a10" filter="url(#f40)"/>
<ellipse cx="175.8" cy="160.5" rx="3.5999999999999996" ry="9.75" fill="#8070e8" transform="rotate(12 175.8 160.5)" opacity="0.47" filter="url(#f140)"/><ellipse cx="180.5" cy="160" rx="6.75" ry="5.25" fill="#8070e8" opacity="0.23" filter="url(#f210)"/><ellipse cx="191" cy="166" rx="4.5" ry="7.5" fill="#8070e8" opacity="0.17" filter="url(#f180)"/><g filter="url(#f50)"><path fill="#dcd4f8" d="M175 149h1v1h-1zM178 151h1v1h-1zM180 153h1v1h-1zM183 156h1v1h-1zM188 156h1v1h-1zM188 157h1v1h-1zM191 157h1v1h-1zM185 158h1v1h-1zM190 160h1v1h-1zM171 161h1v1h-1zM185 161h1v1h-1zM184 163h1v1h-1zM191 163h1v1h-1zM171 164h1v1h-1zM182 164h1v1h-1zM188 164h1v1h-1zM189 164h1v1h-1zM185 165h1v1h-1zM186 165h1v1h-1zM171 166h1v1h-1zM181 166h1v1h-1zM183 166h1v1h-1zM191 167h1v1h-1zM172 168h1v1h-1zM191 168h1v1h-1zM194 168h1v1h-1zM176 169h1v1h-1zM189 169h1v1h-1zM172 170h1v1h-1zM175 171h1v1h-1zM170 172h1v1h-1zM174 174h1v1h-1zM189 174h1v1h-1z"/><path fill="#ccc0f6" d="M175 150h1v1h-1zM172 151h1v1h-1zM179 151h1v1h-1zM172 153h1v1h-1zM185 154h1v1h-1zM194 158h1v1h-1zM184 159h1v1h-1zM193 159h1v1h-1zM182 160h1v1h-1zM186 160h1v1h-1zM181 161h1v1h-1zM183 161h1v1h-1zM187 161h1v1h-1zM190 161h1v1h-1zM179 163h1v1h-1zM179 164h1v1h-1zM186 164h1v1h-1zM170 165h1v1h-1zM192 166h1v1h-1zM174 167h1v1h-1zM177 167h1v1h-1zM173 168h1v1h-1zM174 168h1v1h-1zM175 168h1v1h-1zM185 168h1v1h-1zM189 168h1v1h-1zM194 169h1v1h-1zM175 170h1v1h-1zM192 171h1v1h-1zM189 172h1v1h-1zM190 172h1v1h-1zM192 173h1v1h-1z"/><path fill="#b8a8f2" d="M180 151h1v1h-1zM179 153h1v1h-1zM184 155h1v1h-1zM189 158h1v1h-1zM182 159h1v1h-1zM183 160h1v1h-1zM187 160h1v1h-1zM181 162h1v1h-1zM192 162h1v1h-1zM188 165h1v1h-1zM191 166h1v1h-1zM193 166h1v1h-1zM191 169h1v1h-1z"/><path fill="#a090ee" d="M177 152h1v1h-1zM175 153h1v1h-1zM177 153h1v1h-1zM173 155h1v1h-1zM175 155h1v1h-1zM178 155h1v1h-1zM174 157h1v1h-1zM172 158h1v1h-1zM173 158h1v1h-1zM179 158h1v1h-1zM181 160h1v1h-1zM184 160h1v1h-1zM183 162h1v1h-1zM178 163h1v1h-1zM176 164h1v1h-1zM177 164h1v1h-1zM178 164h1v1h-1zM173 165h1v1h-1zM175 165h1v1h-1zM173 167h1v1h-1z"/><path fill="#7060e4" d="M176 154h1v1h-1zM177 155h1v1h-1zM175 156h1v1h-1zM177 156h1v1h-1zM178 156h1v1h-1zM175 158h1v1h-1zM177 158h1v1h-1zM174 159h1v1h-1zM175 159h1v1h-1zM177 159h1v1h-1zM178 159h1v1h-1zM178 160h1v1h-1zM177 161h1v1h-1zM178 161h1v1h-1zM174 162h1v1h-1zM176 162h1v1h-1zM177 162h1v1h-1zM173 163h1v1h-1zM176 163h1v1h-1zM174 164h1v1h-1zM176 165h1v1h-1z"/><path fill="#8878ea" d="M177 154h1v1h-1zM179 155h1v1h-1zM173 156h1v1h-1zM174 158h1v1h-1zM178 158h1v1h-1zM173 159h1v1h-1zM179 159h1v1h-1zM172 160h1v1h-1zM180 160h1v1h-1zM172 161h1v1h-1zM173 161h1v1h-1zM179 161h1v1h-1zM172 162h1v1h-1zM178 162h1v1h-1zM177 163h1v1h-1zM173 164h1v1h-1zM172 166h1v1h-1zM174 166h1v1h-1z"/><path fill="#4038d8" d="M176 156h1v1h-1zM176 158h1v1h-1zM176 159h1v1h-1zM175 160h1v1h-1zM176 160h1v1h-1zM177 160h1v1h-1zM175 161h1v1h-1zM174 163h1v1h-1zM175 163h1v1h-1z"/><path fill="#5848de" d="M176 157h1v1h-1zM177 157h1v1h-1zM178 157h1v1h-1zM174 160h1v1h-1zM174 161h1v1h-1zM173 162h1v1h-1zM175 162h1v1h-1z"/></g><path d="M168.20 176.70C164.95 175.75 168.95 172.78 169.50 171.00C170.05 169.22 170.75 167.13 171.50 166.00C172.25 164.87 172.92 164.53 174.00 164.20C175.08 163.87 176.67 164.17 178.00 164.00C179.33 163.83 180.67 163.38 182.00 163.20C183.33 163.02 184.67 162.73 186.00 162.90C187.33 163.07 188.95 163.43 190.00 164.20C191.05 164.97 192.03 166.12 192.30 167.50C192.57 168.88 192.15 170.97 191.60 172.50C191.05 174.03 192.90 176.00 189.00 176.70C185.10 177.40 171.45 177.65 168.20 176.70Z" fill="#1a1aa8" filter="url(#f50)"/><path d="M170.30 176.20C167.72 175.33 170.97 172.53 171.50 171.00C172.03 169.47 172.42 167.83 173.50 167.00C174.58 166.17 176.58 166.30 178.00 166.00C179.42 165.70 180.67 165.38 182.00 165.20C183.33 165.02 184.73 164.73 186.00 164.90C187.27 165.07 188.83 165.43 189.60 166.20C190.37 166.97 190.62 168.40 190.60 169.50C190.58 170.60 190.10 171.68 189.50 172.80C188.90 173.92 190.20 175.63 187.00 176.20C183.80 176.77 172.88 177.07 170.30 176.20Z" fill="#2c3ae6" filter="url(#f55)"/><ellipse cx="184.0" cy="168.6" rx="6.2" ry="3.1" fill="#10b4ee" filter="url(#f60)"/><ellipse cx="184.3" cy="168.4" rx="4.6" ry="2.2" fill="#2ed868" filter="url(#f55)"/><ellipse cx="178.5" cy="172.9" rx="6.5" ry="2.8" fill="#10b4ee" filter="url(#f60)"/><ellipse cx="178.3" cy="173.2" rx="4.8" ry="2.1" fill="#2ed868" filter="url(#f55)"/><ellipse cx="176.0" cy="174.6" rx="3.4" ry="1.5" fill="#e8e418" filter="url(#f50)"/><ellipse cx="175.6" cy="174.9" rx="2.5" ry="1.1" fill="#ee8a10" filter="url(#f45)"/><ellipse cx="175.2" cy="175.0" rx="1.2" ry="0.7" fill="#d42a14" filter="url(#f35)"/>
<ellipse cx="222.5" cy="170" rx="3.75" ry="7.5" fill="#d8c0f4" opacity="0.2" filter="url(#f150)"/><ellipse cx="239.5" cy="168" rx="5.25" ry="9.0" fill="#d8c0f4" opacity="0.2" filter="url(#f210)"/><ellipse cx="231" cy="159" rx="7.5" ry="3.75" fill="#d8c0f4" opacity="0.14" filter="url(#f150)"/><g filter="url(#f50)"><path fill="#eee2fa" d="M228 157h1v1h-1zM231 157h1v1h-1zM234 157h1v1h-1zM227 158h1v1h-1zM237 158h1v1h-1zM240 158h1v1h-1zM219 159h1v1h-1zM228 159h1v1h-1zM233 159h1v1h-1zM235 159h1v1h-1zM234 160h1v1h-1zM231 161h1v1h-1zM235 161h1v1h-1zM225 162h1v1h-1zM232 162h1v1h-1zM243 162h1v1h-1zM245 162h1v1h-1zM222 163h1v1h-1zM223 163h1v1h-1zM231 163h1v1h-1zM236 163h1v1h-1zM221 164h1v1h-1zM223 164h1v1h-1zM224 165h1v1h-1zM234 165h1v1h-1zM242 165h1v1h-1zM221 166h1v1h-1zM236 166h1v1h-1zM244 166h1v1h-1zM226 167h1v1h-1zM245 167h1v1h-1zM227 168h1v1h-1zM237 168h1v1h-1zM221 170h1v1h-1zM222 170h1v1h-1zM232 170h1v1h-1zM240 170h1v1h-1zM240 171h1v1h-1zM220 172h1v1h-1zM238 172h1v1h-1zM239 172h1v1h-1zM244 172h1v1h-1zM221 173h1v1h-1zM225 173h1v1h-1zM228 173h1v1h-1zM239 173h1v1h-1zM237 174h1v1h-1zM238 175h1v1h-1zM239 175h1v1h-1zM224 176h1v1h-1zM242 176h1v1h-1zM219 177h1v1h-1zM221 177h1v1h-1zM225 177h1v1h-1zM236 177h1v1h-1z"/><path fill="#e4d2f8" d="M223 158h1v1h-1zM241 158h1v1h-1zM229 160h1v1h-1zM231 160h1v1h-1zM234 162h1v1h-1zM224 163h1v1h-1zM238 163h1v1h-1zM236 165h1v1h-1zM236 167h1v1h-1zM221 168h1v1h-1zM223 168h1v1h-1zM236 172h1v1h-1zM223 174h1v1h-1zM240 176h1v1h-1z"/><path fill="#d8c2f6" d="M230 158h1v1h-1zM233 158h1v1h-1zM235 160h1v1h-1zM236 161h1v1h-1zM238 164h1v1h-1zM239 164h1v1h-1zM237 165h1v1h-1zM220 167h1v1h-1zM223 167h1v1h-1zM239 167h1v1h-1zM241 168h1v1h-1zM242 168h1v1h-1zM221 169h1v1h-1zM222 169h1v1h-1zM239 169h1v1h-1zM240 169h1v1h-1zM221 171h1v1h-1z"/></g><path d="M225.00 176.70L226.20 168.00L227.80 161.20L230.20 160.20L231.40 162.60L233.20 160.60L235.40 163.50L236.70 168.60L236.50 176.70Z" fill="#1a1aa8" filter="url(#f45)"/><path d="M226.40 176.20L227.40 168.50L228.80 162.80L230.20 162.30L231.40 165.00L233.00 162.80L234.60 165.60L235.30 170.00L235.00 176.20Z" fill="#2a40ee" filter="url(#f50)"/><path d="M225.80 176.40C225.10 175.42 226.40 172.15 226.80 170.50C227.20 168.85 227.67 167.12 228.20 166.50C228.73 165.88 229.53 166.13 230.00 166.80C230.47 167.47 230.83 168.90 231.00 170.50C231.17 172.10 231.87 175.42 231.00 176.40C230.13 177.38 226.50 177.38 225.80 176.40Z" fill="#10b4ee" filter="url(#f60)"/><ellipse cx="228.4" cy="172.8" rx="1.9" ry="3.0" fill="#2ed868" transform="rotate(10 228.4 172.8)" filter="url(#f50)"/><ellipse cx="228.1" cy="174.3" rx="1.0" ry="1.4" fill="#b0e428" filter="url(#f40)"/>
<ellipse cx="68" cy="277.8" rx="22.5" ry="4.5" fill="#7c84ec" transform="rotate(-3 68 277.8)" opacity="0.34" filter="url(#f180)"/><ellipse cx="63" cy="270.5" rx="21.0" ry="9.75" fill="#7c84ec" transform="rotate(-10 63 270.5)" opacity="0.19" filter="url(#f390)"/><ellipse cx="66" cy="262" rx="25.5" ry="9.0" fill="#7c84ec" opacity="0.1" filter="url(#f360)"/><ellipse cx="50" cy="274" rx="9.0" ry="4.5" fill="#7c84ec" opacity="0.19" filter="url(#f180)"/><g filter="url(#f50)"><path fill="#d6d6f8" d="M72 252h1v1h-1zM75 252h1v1h-1zM76 252h1v1h-1zM78 252h1v1h-1zM92 252h1v1h-1zM58 253h1v1h-1zM61 253h1v1h-1zM63 253h1v1h-1zM70 253h1v1h-1zM72 253h1v1h-1zM67 254h1v1h-1zM74 254h1v1h-1zM42 255h1v1h-1zM72 255h1v1h-1zM77 255h1v1h-1zM92 255h1v1h-1zM48 256h1v1h-1zM49 256h1v1h-1zM52 256h1v1h-1zM74 256h1v1h-1zM76 256h1v1h-1zM80 256h1v1h-1zM84 256h1v1h-1zM47 257h1v1h-1zM49 257h1v1h-1zM68 257h1v1h-1zM74 257h1v1h-1zM93 257h1v1h-1zM45 258h1v1h-1zM50 258h1v1h-1zM56 258h1v1h-1zM63 258h1v1h-1zM67 258h1v1h-1zM71 258h1v1h-1zM76 258h1v1h-1zM82 258h1v1h-1zM41 259h1v1h-1zM52 259h1v1h-1zM56 259h1v1h-1zM58 259h1v1h-1zM60 259h1v1h-1zM64 259h1v1h-1zM49 260h1v1h-1zM70 260h1v1h-1zM76 260h1v1h-1zM81 260h1v1h-1zM87 260h1v1h-1zM38 261h1v1h-1zM45 261h1v1h-1zM46 261h1v1h-1zM48 261h1v1h-1zM86 261h1v1h-1zM38 262h1v1h-1zM47 262h1v1h-1zM49 262h1v1h-1zM52 262h1v1h-1zM57 262h1v1h-1zM63 262h1v1h-1zM64 262h1v1h-1zM66 262h1v1h-1zM73 262h1v1h-1zM77 262h1v1h-1zM91 262h1v1h-1zM47 263h1v1h-1zM89 263h1v1h-1zM57 264h1v1h-1zM83 264h1v1h-1zM85 264h1v1h-1zM86 264h1v1h-1zM87 264h1v1h-1zM47 265h1v1h-1zM52 265h1v1h-1zM53 265h1v1h-1zM80 265h1v1h-1zM88 265h1v1h-1zM48 266h1v1h-1zM49 266h1v1h-1zM53 266h1v1h-1zM79 266h1v1h-1zM39 267h1v1h-1zM49 267h1v1h-1zM82 267h1v1h-1zM43 268h1v1h-1zM45 268h1v1h-1zM46 268h1v1h-1zM78 268h1v1h-1zM40 269h1v1h-1zM42 269h1v1h-1zM43 269h1v1h-1zM45 269h1v1h-1zM79 270h1v1h-1zM38 272h1v1h-1zM40 272h1v1h-1zM41 272h1v1h-1zM90 272h1v1h-1zM92 272h1v1h-1zM85 273h1v1h-1zM38 274h1v1h-1zM89 275h1v1h-1zM91 275h1v1h-1zM87 277h1v1h-1zM89 277h1v1h-1zM92 277h1v1h-1zM93 277h1v1h-1zM41 278h1v1h-1zM92 278h1v1h-1zM39 279h1v1h-1zM42 279h1v1h-1zM44 279h1v1h-1zM44 280h1v1h-1zM45 280h1v1h-1zM86 280h1v1h-1zM39 281h1v1h-1zM40 281h1v1h-1zM46 281h1v1h-1zM74 281h1v1h-1zM78 281h1v1h-1zM83 281h1v1h-1zM43 282h1v1h-1zM79 282h1v1h-1zM86 282h1v1h-1zM92 282h1v1h-1zM39 283h1v1h-1zM46 283h1v1h-1zM59 283h1v1h-1zM60 283h1v1h-1zM64 283h1v1h-1zM68 283h1v1h-1zM44 284h1v1h-1zM46 284h1v1h-1zM58 284h1v1h-1zM76 284h1v1h-1zM80 284h1v1h-1z"/><path fill="#c2c4f6" d="M55 254h1v1h-1zM56 255h1v1h-1zM63 255h1v1h-1zM53 256h1v1h-1zM54 256h1v1h-1zM59 257h1v1h-1zM62 257h1v1h-1zM65 257h1v1h-1zM69 257h1v1h-1zM71 257h1v1h-1zM72 257h1v1h-1zM49 258h1v1h-1zM68 258h1v1h-1zM62 259h1v1h-1zM63 259h1v1h-1zM70 259h1v1h-1zM73 259h1v1h-1zM74 259h1v1h-1zM75 259h1v1h-1zM41 260h1v1h-1zM64 260h1v1h-1zM53 261h1v1h-1zM64 261h1v1h-1zM72 261h1v1h-1zM45 262h1v1h-1zM51 262h1v1h-1zM54 262h1v1h-1zM58 262h1v1h-1zM90 262h1v1h-1zM50 263h1v1h-1zM51 263h1v1h-1zM63 263h1v1h-1zM68 263h1v1h-1zM43 265h1v1h-1zM48 265h1v1h-1zM62 265h1v1h-1zM86 265h1v1h-1zM54 266h1v1h-1zM57 266h1v1h-1zM64 266h1v1h-1zM74 266h1v1h-1zM82 266h1v1h-1zM91 266h1v1h-1zM72 267h1v1h-1zM74 267h1v1h-1zM80 267h1v1h-1zM81 267h1v1h-1zM86 267h1v1h-1zM42 268h1v1h-1zM50 268h1v1h-1zM57 269h1v1h-1zM69 269h1v1h-1zM41 270h1v1h-1zM47 270h1v1h-1zM78 270h1v1h-1zM81 270h1v1h-1zM39 271h1v1h-1zM42 271h1v1h-1zM78 272h1v1h-1zM76 273h1v1h-1zM87 273h1v1h-1zM90 273h1v1h-1zM42 274h1v1h-1zM86 276h1v1h-1zM87 276h1v1h-1zM41 277h1v1h-1zM81 277h1v1h-1zM88 277h1v1h-1zM45 278h1v1h-1zM83 278h1v1h-1zM87 278h1v1h-1zM85 279h1v1h-1zM89 279h1v1h-1zM47 280h1v1h-1zM49 280h1v1h-1zM50 280h1v1h-1zM78 280h1v1h-1zM63 281h1v1h-1zM75 281h1v1h-1zM76 281h1v1h-1zM46 282h1v1h-1zM57 282h1v1h-1zM60 282h1v1h-1zM55 283h1v1h-1zM69 283h1v1h-1z"/><path fill="#acaef2" d="M60 258h1v1h-1zM59 259h1v1h-1zM72 259h1v1h-1zM73 260h1v1h-1zM57 261h1v1h-1zM65 261h1v1h-1zM68 261h1v1h-1zM69 261h1v1h-1zM75 261h1v1h-1zM70 262h1v1h-1zM79 262h1v1h-1zM61 263h1v1h-1zM64 263h1v1h-1zM66 263h1v1h-1zM69 263h1v1h-1zM79 263h1v1h-1zM81 263h1v1h-1zM51 264h1v1h-1zM54 264h1v1h-1zM80 264h1v1h-1zM63 265h1v1h-1zM64 265h1v1h-1zM71 265h1v1h-1zM77 265h1v1h-1zM50 266h1v1h-1zM51 266h1v1h-1zM55 266h1v1h-1zM68 266h1v1h-1zM73 266h1v1h-1zM75 266h1v1h-1zM51 267h1v1h-1zM71 267h1v1h-1zM73 267h1v1h-1zM51 268h1v1h-1zM54 268h1v1h-1zM55 268h1v1h-1zM56 268h1v1h-1zM66 268h1v1h-1zM75 268h1v1h-1zM76 268h1v1h-1zM59 269h1v1h-1zM62 269h1v1h-1zM63 269h1v1h-1zM64 269h1v1h-1zM75 269h1v1h-1zM77 269h1v1h-1zM65 270h1v1h-1zM72 270h1v1h-1zM75 270h1v1h-1zM77 270h1v1h-1zM43 271h1v1h-1zM52 271h1v1h-1zM64 271h1v1h-1zM73 271h1v1h-1zM76 271h1v1h-1zM79 271h1v1h-1zM42 272h1v1h-1zM46 272h1v1h-1zM61 272h1v1h-1zM68 272h1v1h-1zM82 272h1v1h-1zM43 273h1v1h-1zM44 273h1v1h-1zM71 273h1v1h-1zM79 273h1v1h-1zM81 273h1v1h-1zM43 274h1v1h-1zM76 274h1v1h-1zM44 275h1v1h-1zM46 275h1v1h-1zM78 275h1v1h-1zM45 276h1v1h-1zM81 276h1v1h-1zM85 276h1v1h-1zM88 276h1v1h-1zM91 276h1v1h-1zM45 277h1v1h-1zM46 277h1v1h-1zM78 277h1v1h-1zM86 277h1v1h-1zM79 278h1v1h-1zM85 278h1v1h-1zM89 278h1v1h-1zM43 279h1v1h-1zM50 279h1v1h-1zM80 279h1v1h-1zM81 279h1v1h-1zM55 280h1v1h-1zM62 280h1v1h-1zM67 280h1v1h-1zM70 280h1v1h-1zM71 280h1v1h-1zM72 280h1v1h-1zM44 281h1v1h-1zM48 281h1v1h-1zM50 281h1v1h-1zM54 281h1v1h-1zM59 281h1v1h-1zM65 281h1v1h-1z"/><path fill="#9498f0" d="M66 260h1v1h-1zM60 263h1v1h-1zM62 263h1v1h-1zM59 264h1v1h-1zM61 264h1v1h-1zM76 264h1v1h-1zM77 264h1v1h-1zM67 265h1v1h-1zM61 266h1v1h-1zM67 266h1v1h-1zM69 266h1v1h-1zM50 267h1v1h-1zM59 267h1v1h-1zM49 268h1v1h-1zM61 268h1v1h-1zM69 268h1v1h-1zM46 269h1v1h-1zM49 269h1v1h-1zM54 269h1v1h-1zM56 269h1v1h-1zM61 269h1v1h-1zM74 269h1v1h-1zM76 269h1v1h-1zM50 270h1v1h-1zM51 270h1v1h-1zM54 270h1v1h-1zM58 270h1v1h-1zM61 270h1v1h-1zM46 271h1v1h-1zM56 271h1v1h-1zM58 271h1v1h-1zM60 271h1v1h-1zM61 271h1v1h-1zM66 271h1v1h-1zM70 271h1v1h-1zM43 272h1v1h-1zM58 272h1v1h-1zM63 272h1v1h-1zM64 272h1v1h-1zM69 272h1v1h-1zM72 272h1v1h-1zM75 272h1v1h-1zM77 272h1v1h-1zM46 273h1v1h-1zM55 273h1v1h-1zM59 273h1v1h-1zM64 273h1v1h-1zM65 273h1v1h-1zM77 273h1v1h-1zM78 273h1v1h-1zM63 274h1v1h-1zM67 274h1v1h-1zM71 274h1v1h-1zM78 274h1v1h-1zM80 274h1v1h-1zM42 275h1v1h-1zM75 275h1v1h-1zM43 276h1v1h-1zM80 276h1v1h-1zM44 277h1v1h-1zM82 277h1v1h-1zM83 277h1v1h-1zM42 278h1v1h-1zM48 278h1v1h-1zM50 278h1v1h-1zM75 278h1v1h-1zM76 278h1v1h-1zM82 278h1v1h-1zM51 279h1v1h-1zM53 279h1v1h-1zM54 279h1v1h-1zM55 279h1v1h-1zM78 279h1v1h-1zM57 280h1v1h-1zM65 280h1v1h-1zM73 280h1v1h-1zM79 280h1v1h-1zM62 281h1v1h-1zM64 281h1v1h-1z"/><path fill="#7c80ec" d="M60 265h1v1h-1zM71 266h1v1h-1zM68 267h1v1h-1zM62 268h1v1h-1zM72 268h1v1h-1zM66 269h1v1h-1zM55 270h1v1h-1zM56 270h1v1h-1zM59 270h1v1h-1zM71 270h1v1h-1zM51 271h1v1h-1zM59 271h1v1h-1zM63 271h1v1h-1zM65 271h1v1h-1zM47 272h1v1h-1zM48 272h1v1h-1zM49 272h1v1h-1zM50 272h1v1h-1zM57 272h1v1h-1zM65 272h1v1h-1zM48 273h1v1h-1zM56 273h1v1h-1zM57 273h1v1h-1zM61 273h1v1h-1zM67 273h1v1h-1zM75 273h1v1h-1zM45 274h1v1h-1zM49 274h1v1h-1zM50 274h1v1h-1zM51 274h1v1h-1zM54 274h1v1h-1zM55 274h1v1h-1zM64 274h1v1h-1zM47 275h1v1h-1zM58 275h1v1h-1zM60 275h1v1h-1zM62 275h1v1h-1zM68 275h1v1h-1zM77 275h1v1h-1zM80 275h1v1h-1zM81 275h1v1h-1zM47 276h1v1h-1zM49 276h1v1h-1zM51 276h1v1h-1zM52 276h1v1h-1zM53 276h1v1h-1zM54 276h1v1h-1zM55 276h1v1h-1zM59 276h1v1h-1zM64 276h1v1h-1zM65 276h1v1h-1zM67 276h1v1h-1zM72 276h1v1h-1zM74 276h1v1h-1zM48 277h1v1h-1zM49 277h1v1h-1zM50 277h1v1h-1zM54 277h1v1h-1zM56 277h1v1h-1zM59 277h1v1h-1zM62 277h1v1h-1zM63 277h1v1h-1zM68 277h1v1h-1zM72 277h1v1h-1zM73 277h1v1h-1zM76 277h1v1h-1zM47 278h1v1h-1zM49 278h1v1h-1zM57 278h1v1h-1zM59 278h1v1h-1zM61 278h1v1h-1zM71 278h1v1h-1zM81 278h1v1h-1zM47 279h1v1h-1zM77 279h1v1h-1zM58 280h1v1h-1zM63 280h1v1h-1zM69 280h1v1h-1z"/><path fill="#646aea" d="M53 271h1v1h-1zM54 271h1v1h-1zM57 271h1v1h-1zM51 272h1v1h-1zM59 272h1v1h-1zM49 273h1v1h-1zM50 273h1v1h-1zM66 273h1v1h-1zM68 273h1v1h-1zM72 273h1v1h-1zM46 274h1v1h-1zM48 274h1v1h-1zM57 274h1v1h-1zM73 274h1v1h-1zM49 275h1v1h-1zM54 275h1v1h-1zM57 275h1v1h-1zM63 275h1v1h-1zM64 275h1v1h-1zM65 275h1v1h-1zM69 275h1v1h-1zM70 275h1v1h-1zM73 275h1v1h-1zM76 275h1v1h-1zM50 276h1v1h-1zM61 276h1v1h-1zM71 276h1v1h-1zM73 276h1v1h-1zM76 276h1v1h-1zM78 276h1v1h-1zM51 277h1v1h-1zM53 277h1v1h-1zM66 277h1v1h-1zM71 277h1v1h-1zM74 277h1v1h-1zM79 277h1v1h-1zM51 278h1v1h-1zM54 278h1v1h-1zM55 278h1v1h-1zM64 278h1v1h-1zM66 278h1v1h-1zM68 278h1v1h-1zM73 278h1v1h-1zM74 278h1v1h-1zM56 279h1v1h-1zM61 279h1v1h-1zM62 279h1v1h-1zM63 279h1v1h-1zM64 279h1v1h-1zM65 279h1v1h-1zM67 279h1v1h-1zM69 279h1v1h-1zM70 279h1v1h-1zM75 279h1v1h-1z"/><path fill="#4e56e4" d="M52 272h1v1h-1zM53 272h1v1h-1zM55 272h1v1h-1zM52 273h1v1h-1zM54 273h1v1h-1zM58 273h1v1h-1zM53 274h1v1h-1zM56 274h1v1h-1zM59 274h1v1h-1zM60 274h1v1h-1zM61 274h1v1h-1zM62 274h1v1h-1zM72 274h1v1h-1zM48 275h1v1h-1zM52 275h1v1h-1zM53 275h1v1h-1zM59 275h1v1h-1zM66 275h1v1h-1zM67 275h1v1h-1zM71 275h1v1h-1zM56 276h1v1h-1zM58 276h1v1h-1zM60 276h1v1h-1zM63 276h1v1h-1zM66 276h1v1h-1zM69 276h1v1h-1zM55 277h1v1h-1zM58 277h1v1h-1zM61 277h1v1h-1zM67 277h1v1h-1zM69 277h1v1h-1zM53 278h1v1h-1zM60 278h1v1h-1zM65 278h1v1h-1zM67 278h1v1h-1zM69 278h1v1h-1zM72 278h1v1h-1zM59 279h1v1h-1zM60 279h1v1h-1z"/><path fill="#3a42e0" d="M52 274h1v1h-1zM55 275h1v1h-1zM61 275h1v1h-1zM68 276h1v1h-1zM70 276h1v1h-1zM52 277h1v1h-1zM57 277h1v1h-1zM60 277h1v1h-1zM56 278h1v1h-1zM62 278h1v1h-1zM63 278h1v1h-1zM70 278h1v1h-1z"/></g><path d="M38.30 282.00C37.72 280.97 38.05 277.82 38.50 276.60C38.95 275.38 39.42 275.17 41.00 274.70C42.58 274.23 45.17 274.02 48.00 273.80C50.83 273.58 54.33 273.40 58.00 273.40C61.67 273.40 66.33 273.50 70.00 273.80C73.67 274.10 77.33 274.57 80.00 275.20C82.67 275.83 86.00 276.70 86.00 277.60C86.00 278.50 83.33 279.87 80.00 280.60C76.67 281.33 71.00 281.67 66.00 282.00C61.00 282.33 54.00 282.47 50.00 282.60C46.00 282.73 43.95 282.90 42.00 282.80C40.05 282.70 38.88 283.03 38.30 282.00Z" fill="#3442e0" opacity="0.8" filter="url(#f80)"/><ellipse cx="60" cy="278.5" rx="20" ry="2.4" fill="#18a8ec" transform="rotate(-1 60 278.5)" filter="url(#f80)"/><ellipse cx="50.5" cy="278.8" rx="10" ry="2.2" fill="#2ed868" transform="rotate(-1 50.5 278.8)" filter="url(#f70)"/><ellipse cx="44.6" cy="279.1" rx="4.3" ry="1.9" fill="#e8e418" filter="url(#f60)"/><ellipse cx="42.6" cy="279.3" rx="2.6" ry="1.4" fill="#ee8a10" filter="url(#f50)"/><ellipse cx="41.6" cy="279.3" rx="1.3" ry="0.9" fill="#d42a14" filter="url(#f40)"/>
<ellipse cx="143" cy="276.8" rx="21.0" ry="3.9000000000000004" fill="#7c84ec" transform="rotate(-2 143 276.8)" opacity="0.36" filter="url(#f160)"/><ellipse cx="140" cy="268.5" rx="24.0" ry="7.5" fill="#7c84ec" transform="rotate(-5 140 268.5)" opacity="0.11" filter="url(#f300)"/><ellipse cx="125" cy="277" rx="7.5" ry="4.5" fill="#7c84ec" opacity="0.23" filter="url(#f180)"/><g filter="url(#f50)"><path fill="#d6d6f8" d="M151 258h1v1h-1zM129 259h1v1h-1zM139 259h1v1h-1zM124 260h1v1h-1zM157 260h1v1h-1zM119 261h1v1h-1zM148 261h1v1h-1zM152 261h1v1h-1zM148 263h1v1h-1zM154 263h1v1h-1zM124 264h1v1h-1zM131 264h1v1h-1zM137 264h1v1h-1zM139 264h1v1h-1zM141 264h1v1h-1zM142 264h1v1h-1zM149 264h1v1h-1zM158 264h1v1h-1zM123 265h1v1h-1zM128 265h1v1h-1zM123 266h1v1h-1zM122 267h1v1h-1zM132 267h1v1h-1zM133 267h1v1h-1zM144 267h1v1h-1zM146 267h1v1h-1zM152 267h1v1h-1zM153 267h1v1h-1zM158 267h1v1h-1zM121 268h1v1h-1zM126 268h1v1h-1zM117 269h1v1h-1zM128 269h1v1h-1zM144 269h1v1h-1zM148 269h1v1h-1zM152 269h1v1h-1zM162 269h1v1h-1zM117 270h1v1h-1zM134 270h1v1h-1zM140 270h1v1h-1zM154 270h1v1h-1zM162 270h1v1h-1zM124 271h1v1h-1zM144 271h1v1h-1zM154 271h1v1h-1zM158 271h1v1h-1zM161 271h1v1h-1zM132 272h1v1h-1zM156 272h1v1h-1zM159 272h1v1h-1zM160 272h1v1h-1zM154 273h1v1h-1zM165 273h1v1h-1zM167 273h1v1h-1zM164 275h1v1h-1zM166 276h1v1h-1zM161 277h1v1h-1zM162 277h1v1h-1zM158 278h1v1h-1zM165 278h1v1h-1zM154 279h1v1h-1zM158 279h1v1h-1zM160 279h1v1h-1zM119 280h1v1h-1zM148 280h1v1h-1zM151 280h1v1h-1zM155 280h1v1h-1zM125 281h1v1h-1zM131 281h1v1h-1zM152 281h1v1h-1zM155 281h1v1h-1zM158 281h1v1h-1zM116 282h1v1h-1zM117 282h1v1h-1zM123 282h1v1h-1zM157 282h1v1h-1zM115 283h1v1h-1zM117 283h1v1h-1zM121 283h1v1h-1zM126 283h1v1h-1zM123 284h1v1h-1zM130 284h1v1h-1zM147 284h1v1h-1z"/><path fill="#acaef2" d="M143 264h1v1h-1zM142 266h1v1h-1zM129 267h1v1h-1zM141 267h1v1h-1zM147 267h1v1h-1zM133 268h1v1h-1zM145 268h1v1h-1zM147 268h1v1h-1zM131 269h1v1h-1zM138 269h1v1h-1zM135 270h1v1h-1zM144 270h1v1h-1zM129 271h1v1h-1zM135 271h1v1h-1zM139 271h1v1h-1zM137 272h1v1h-1zM140 272h1v1h-1zM141 272h1v1h-1zM120 273h1v1h-1zM124 273h1v1h-1zM130 273h1v1h-1zM131 273h1v1h-1zM139 273h1v1h-1zM140 273h1v1h-1zM142 273h1v1h-1zM151 273h1v1h-1zM152 273h1v1h-1zM163 273h1v1h-1zM155 274h1v1h-1zM157 274h1v1h-1zM154 275h1v1h-1zM156 275h1v1h-1zM162 275h1v1h-1zM119 276h1v1h-1zM120 276h1v1h-1zM156 276h1v1h-1zM157 276h1v1h-1zM160 276h1v1h-1zM162 276h1v1h-1zM163 276h1v1h-1zM152 277h1v1h-1zM154 277h1v1h-1zM157 277h1v1h-1zM119 278h1v1h-1zM120 278h1v1h-1zM118 279h1v1h-1zM120 279h1v1h-1zM131 279h1v1h-1zM147 279h1v1h-1zM155 279h1v1h-1zM126 280h1v1h-1zM140 280h1v1h-1zM121 281h1v1h-1zM122 281h1v1h-1z"/><path fill="#c2c4f6" d="M129 265h1v1h-1zM141 265h1v1h-1zM127 267h1v1h-1zM128 267h1v1h-1zM142 267h1v1h-1zM138 268h1v1h-1zM143 268h1v1h-1zM120 269h1v1h-1zM122 269h1v1h-1zM132 269h1v1h-1zM143 269h1v1h-1zM158 269h1v1h-1zM119 270h1v1h-1zM132 270h1v1h-1zM147 270h1v1h-1zM150 270h1v1h-1zM152 270h1v1h-1zM155 270h1v1h-1zM115 271h1v1h-1zM132 271h1v1h-1zM143 271h1v1h-1zM149 271h1v1h-1zM150 271h1v1h-1zM134 272h1v1h-1zM155 272h1v1h-1zM123 273h1v1h-1zM136 273h1v1h-1zM159 274h1v1h-1zM158 275h1v1h-1zM118 276h1v1h-1zM154 278h1v1h-1zM155 278h1v1h-1zM160 278h1v1h-1zM115 279h1v1h-1zM121 279h1v1h-1zM150 279h1v1h-1zM157 279h1v1h-1zM163 279h1v1h-1zM166 279h1v1h-1zM116 280h1v1h-1zM146 280h1v1h-1zM150 280h1v1h-1zM139 281h1v1h-1z"/><path fill="#9498f0" d="M123 272h1v1h-1zM124 272h1v1h-1zM127 272h1v1h-1zM136 272h1v1h-1zM143 272h1v1h-1zM145 272h1v1h-1zM152 272h1v1h-1zM121 273h1v1h-1zM133 273h1v1h-1zM134 273h1v1h-1zM143 273h1v1h-1zM147 273h1v1h-1zM121 274h1v1h-1zM124 274h1v1h-1zM125 274h1v1h-1zM131 274h1v1h-1zM135 274h1v1h-1zM139 274h1v1h-1zM141 274h1v1h-1zM147 274h1v1h-1zM119 275h1v1h-1zM121 275h1v1h-1zM122 275h1v1h-1zM148 275h1v1h-1zM157 275h1v1h-1zM161 275h1v1h-1zM122 276h1v1h-1zM151 276h1v1h-1zM159 276h1v1h-1zM122 278h1v1h-1zM133 278h1v1h-1zM135 278h1v1h-1zM147 278h1v1h-1zM150 278h1v1h-1zM157 278h1v1h-1zM122 279h1v1h-1zM127 279h1v1h-1zM129 279h1v1h-1zM134 279h1v1h-1zM142 279h1v1h-1zM144 279h1v1h-1zM128 280h1v1h-1zM131 280h1v1h-1zM133 280h1v1h-1zM134 280h1v1h-1z"/><path fill="#7c80ec" d="M126 273h1v1h-1zM129 273h1v1h-1zM135 273h1v1h-1zM138 273h1v1h-1zM146 273h1v1h-1zM122 274h1v1h-1zM126 274h1v1h-1zM128 274h1v1h-1zM136 274h1v1h-1zM140 274h1v1h-1zM144 274h1v1h-1zM150 274h1v1h-1zM124 275h1v1h-1zM126 275h1v1h-1zM130 275h1v1h-1zM133 275h1v1h-1zM134 275h1v1h-1zM137 275h1v1h-1zM147 275h1v1h-1zM150 275h1v1h-1zM159 275h1v1h-1zM121 276h1v1h-1zM154 276h1v1h-1zM126 277h1v1h-1zM127 277h1v1h-1zM133 277h1v1h-1zM137 277h1v1h-1zM142 277h1v1h-1zM151 277h1v1h-1zM153 277h1v1h-1zM155 277h1v1h-1zM127 278h1v1h-1zM131 278h1v1h-1zM134 278h1v1h-1zM138 278h1v1h-1zM151 278h1v1h-1zM152 278h1v1h-1zM126 279h1v1h-1zM128 279h1v1h-1zM132 279h1v1h-1zM133 279h1v1h-1zM138 279h1v1h-1z"/><path fill="#646aea" d="M129 274h1v1h-1zM137 274h1v1h-1zM142 274h1v1h-1zM145 274h1v1h-1zM152 274h1v1h-1zM123 275h1v1h-1zM136 275h1v1h-1zM138 275h1v1h-1zM142 275h1v1h-1zM143 275h1v1h-1zM149 275h1v1h-1zM124 276h1v1h-1zM125 276h1v1h-1zM126 276h1v1h-1zM127 276h1v1h-1zM128 276h1v1h-1zM130 276h1v1h-1zM134 276h1v1h-1zM135 276h1v1h-1zM139 276h1v1h-1zM140 276h1v1h-1zM145 276h1v1h-1zM146 276h1v1h-1zM148 276h1v1h-1zM155 276h1v1h-1zM122 277h1v1h-1zM138 277h1v1h-1zM147 277h1v1h-1zM150 277h1v1h-1zM123 278h1v1h-1zM124 278h1v1h-1zM137 278h1v1h-1zM142 278h1v1h-1zM125 279h1v1h-1z"/><path fill="#4e56e4" d="M127 275h1v1h-1zM129 275h1v1h-1zM131 275h1v1h-1zM135 275h1v1h-1zM139 275h1v1h-1zM141 275h1v1h-1zM146 275h1v1h-1zM123 276h1v1h-1zM131 276h1v1h-1zM133 276h1v1h-1zM141 276h1v1h-1zM144 276h1v1h-1zM147 276h1v1h-1zM149 276h1v1h-1zM150 276h1v1h-1zM123 277h1v1h-1zM124 277h1v1h-1zM125 277h1v1h-1zM129 277h1v1h-1zM135 277h1v1h-1zM136 277h1v1h-1zM141 277h1v1h-1zM144 277h1v1h-1zM145 277h1v1h-1zM146 277h1v1h-1zM149 277h1v1h-1zM125 278h1v1h-1zM126 278h1v1h-1zM129 278h1v1h-1zM132 278h1v1h-1zM145 278h1v1h-1z"/><path fill="#3a42e0" d="M128 275h1v1h-1zM140 275h1v1h-1zM144 275h1v1h-1zM145 275h1v1h-1zM132 276h1v1h-1zM138 276h1v1h-1zM142 276h1v1h-1zM128 277h1v1h-1zM130 277h1v1h-1zM140 277h1v1h-1zM128 278h1v1h-1z"/></g><ellipse cx="140" cy="277.6" rx="10" ry="1.3" fill="#20a0ec" opacity="0.75" filter="url(#f70)"/><path d="M115.20 280.80C114.43 280.00 114.93 277.92 115.40 277.00C115.87 276.08 116.73 275.63 118.00 275.30C119.27 274.97 121.50 274.88 123.00 275.00C124.50 275.12 126.50 275.17 127.00 276.00C127.50 276.83 127.17 279.03 126.00 280.00C124.83 280.97 121.80 281.67 120.00 281.80C118.20 281.93 115.97 281.60 115.20 280.80Z" fill="#1a1aa8" filter="url(#f50)"/><ellipse cx="120.6" cy="278.6" rx="4.8" ry="1.9" fill="#10b4ee" filter="url(#f50)"/><ellipse cx="119.8" cy="278.7" rx="3.5" ry="1.5" fill="#2ed868" filter="url(#f50)"/><ellipse cx="119.2" cy="278.7" rx="2.1" ry="1.0" fill="#e8e418" filter="url(#f45)"/><ellipse cx="118.8" cy="278.8" rx="1.2" ry="0.65" fill="#ee8a10" filter="url(#f35)"/>
<ellipse cx="200" cy="266.5" rx="7.5" ry="13.5" fill="#7c84ec" transform="rotate(20 200 266.5)" opacity="0.43" filter="url(#f300)"/><ellipse cx="202" cy="259" rx="7.5" ry="7.5" fill="#7c84ec" transform="rotate(15 202 259)" opacity="0.23" filter="url(#f300)"/><ellipse cx="196" cy="278" rx="7.5" ry="6.0" fill="#7c84ec" opacity="0.27" filter="url(#f240)"/><g filter="url(#f50)"><path fill="#d6d6f8" d="M194 252h1v1h-1zM193 254h1v1h-1zM194 254h1v1h-1zM208 254h1v1h-1zM211 254h1v1h-1zM191 256h1v1h-1zM190 257h1v1h-1zM191 257h1v1h-1zM193 261h1v1h-1zM212 261h1v1h-1zM210 264h1v1h-1zM188 266h1v1h-1zM208 266h1v1h-1zM187 268h1v1h-1zM209 268h1v1h-1zM209 269h1v1h-1zM190 270h1v1h-1zM208 270h1v1h-1zM210 271h1v1h-1zM206 273h1v1h-1zM204 277h1v1h-1zM204 278h1v1h-1zM206 278h1v1h-1zM188 280h1v1h-1zM203 282h1v1h-1zM207 282h1v1h-1zM195 283h1v1h-1zM202 283h1v1h-1zM199 284h1v1h-1zM199 285h1v1h-1zM202 285h1v1h-1z"/><path fill="#c2c4f6" d="M195 252h1v1h-1zM199 252h1v1h-1zM209 254h1v1h-1zM196 255h1v1h-1zM210 255h1v1h-1zM211 255h1v1h-1zM195 258h1v1h-1zM194 260h1v1h-1zM191 264h1v1h-1zM192 264h1v1h-1zM208 264h1v1h-1zM211 264h1v1h-1zM193 265h1v1h-1zM212 265h1v1h-1zM210 266h1v1h-1zM193 267h1v1h-1zM207 268h1v1h-1zM191 269h1v1h-1zM206 269h1v1h-1zM205 270h1v1h-1zM189 271h1v1h-1zM191 271h1v1h-1zM204 272h1v1h-1zM204 273h1v1h-1zM188 276h1v1h-1zM206 276h1v1h-1zM188 279h1v1h-1zM203 279h1v1h-1zM191 280h1v1h-1zM197 284h1v1h-1zM202 284h1v1h-1z"/><path fill="#9498f0" d="M198 252h1v1h-1zM200 252h1v1h-1zM201 252h1v1h-1zM203 252h1v1h-1zM199 253h1v1h-1zM200 253h1v1h-1zM205 253h1v1h-1zM200 254h1v1h-1zM204 254h1v1h-1zM194 256h1v1h-1zM195 257h1v1h-1zM197 257h1v1h-1zM206 257h1v1h-1zM209 257h1v1h-1zM194 258h1v1h-1zM206 258h1v1h-1zM209 259h1v1h-1zM193 260h1v1h-1zM207 261h1v1h-1zM195 262h1v1h-1zM206 262h1v1h-1zM195 263h1v1h-1zM193 264h1v1h-1zM195 264h1v1h-1zM195 265h1v1h-1zM206 266h1v1h-1zM207 266h1v1h-1zM205 267h1v1h-1zM206 268h1v1h-1zM204 270h1v1h-1zM203 272h1v1h-1zM190 273h1v1h-1zM191 274h1v1h-1zM190 275h1v1h-1zM192 275h1v1h-1zM190 276h1v1h-1zM191 276h1v1h-1zM203 276h1v1h-1zM202 277h1v1h-1zM200 278h1v1h-1zM200 279h1v1h-1zM198 280h1v1h-1zM198 281h1v1h-1zM198 282h1v1h-1z"/><path fill="#7c80ec" d="M201 253h1v1h-1zM199 254h1v1h-1zM201 254h1v1h-1zM202 254h1v1h-1zM199 256h1v1h-1zM204 256h1v1h-1zM205 256h1v1h-1zM196 257h1v1h-1zM204 257h1v1h-1zM205 257h1v1h-1zM197 259h1v1h-1zM205 259h1v1h-1zM207 260h1v1h-1zM195 261h1v1h-1zM206 261h1v1h-1zM205 262h1v1h-1zM206 263h1v1h-1zM194 265h1v1h-1zM195 266h1v1h-1zM205 266h1v1h-1zM205 268h1v1h-1zM202 269h1v1h-1zM196 270h1v1h-1zM197 270h1v1h-1zM202 270h1v1h-1zM199 272h1v1h-1zM200 272h1v1h-1zM201 272h1v1h-1zM193 273h1v1h-1zM201 273h1v1h-1zM191 275h1v1h-1zM194 275h1v1h-1zM203 275h1v1h-1zM192 276h1v1h-1zM202 276h1v1h-1zM200 277h1v1h-1zM195 278h1v1h-1zM199 278h1v1h-1zM197 279h1v1h-1zM196 280h1v1h-1z"/><path fill="#acaef2" d="M203 253h1v1h-1zM192 255h1v1h-1zM195 255h1v1h-1zM197 255h1v1h-1zM209 256h1v1h-1zM195 259h1v1h-1zM208 261h1v1h-1zM191 262h1v1h-1zM208 262h1v1h-1zM209 262h1v1h-1zM210 262h1v1h-1zM193 263h1v1h-1zM207 263h1v1h-1zM206 264h1v1h-1zM208 268h1v1h-1zM204 269h1v1h-1zM193 270h1v1h-1zM203 270h1v1h-1zM203 273h1v1h-1zM201 275h1v1h-1zM204 275h1v1h-1zM187 276h1v1h-1zM188 277h1v1h-1zM203 277h1v1h-1zM190 280h1v1h-1zM202 280h1v1h-1zM188 281h1v1h-1zM193 281h1v1h-1zM194 281h1v1h-1zM200 281h1v1h-1zM195 282h1v1h-1zM193 283h1v1h-1zM194 283h1v1h-1zM199 283h1v1h-1z"/><path fill="#646aea" d="M199 255h1v1h-1zM200 255h1v1h-1zM201 255h1v1h-1zM201 256h1v1h-1zM202 256h1v1h-1zM203 256h1v1h-1zM198 257h1v1h-1zM203 257h1v1h-1zM198 258h1v1h-1zM200 258h1v1h-1zM201 258h1v1h-1zM201 260h1v1h-1zM203 260h1v1h-1zM206 260h1v1h-1zM200 261h1v1h-1zM201 261h1v1h-1zM202 261h1v1h-1zM203 261h1v1h-1zM205 261h1v1h-1zM196 262h1v1h-1zM204 262h1v1h-1zM196 263h1v1h-1zM200 263h1v1h-1zM202 263h1v1h-1zM203 263h1v1h-1zM196 264h1v1h-1zM200 264h1v1h-1zM201 264h1v1h-1zM196 265h1v1h-1zM202 265h1v1h-1zM202 266h1v1h-1zM196 267h1v1h-1zM197 267h1v1h-1zM199 267h1v1h-1zM200 267h1v1h-1zM194 268h1v1h-1zM197 268h1v1h-1zM198 268h1v1h-1zM199 268h1v1h-1zM194 269h1v1h-1zM197 269h1v1h-1zM198 269h1v1h-1zM200 269h1v1h-1zM198 270h1v1h-1zM194 271h1v1h-1zM197 271h1v1h-1zM198 271h1v1h-1zM193 272h1v1h-1zM195 272h1v1h-1zM196 272h1v1h-1zM197 272h1v1h-1zM194 273h1v1h-1zM195 273h1v1h-1zM198 273h1v1h-1zM199 273h1v1h-1zM193 274h1v1h-1zM196 274h1v1h-1zM199 274h1v1h-1zM200 274h1v1h-1zM193 275h1v1h-1zM198 275h1v1h-1zM200 275h1v1h-1zM193 276h1v1h-1zM194 276h1v1h-1zM199 276h1v1h-1zM201 276h1v1h-1zM192 277h1v1h-1zM195 277h1v1h-1zM191 278h1v1h-1zM193 278h1v1h-1zM196 278h1v1h-1zM197 278h1v1h-1zM198 278h1v1h-1zM191 279h1v1h-1zM192 279h1v1h-1zM193 279h1v1h-1zM196 279h1v1h-1zM194 280h1v1h-1zM195 280h1v1h-1zM197 280h1v1h-1z"/><path fill="#4e56e4" d="M203 255h1v1h-1zM200 256h1v1h-1zM199 257h1v1h-1zM201 257h1v1h-1zM202 257h1v1h-1zM197 258h1v1h-1zM202 258h1v1h-1zM205 258h1v1h-1zM199 259h1v1h-1zM200 259h1v1h-1zM196 260h1v1h-1zM197 260h1v1h-1zM198 260h1v1h-1zM197 261h1v1h-1zM199 261h1v1h-1zM204 261h1v1h-1zM201 262h1v1h-1zM197 263h1v1h-1zM198 263h1v1h-1zM199 263h1v1h-1zM201 263h1v1h-1zM205 263h1v1h-1zM199 264h1v1h-1zM201 265h1v1h-1zM204 265h1v1h-1zM200 266h1v1h-1zM203 267h1v1h-1zM202 268h1v1h-1zM203 268h1v1h-1zM196 269h1v1h-1zM201 269h1v1h-1zM195 271h1v1h-1zM196 271h1v1h-1zM199 271h1v1h-1zM194 272h1v1h-1zM200 273h1v1h-1zM194 274h1v1h-1zM195 274h1v1h-1zM198 274h1v1h-1zM197 275h1v1h-1zM199 275h1v1h-1zM195 276h1v1h-1zM197 276h1v1h-1zM198 276h1v1h-1zM194 277h1v1h-1zM197 277h1v1h-1zM194 278h1v1h-1zM195 279h1v1h-1z"/><path fill="#3a42e0" d="M200 257h1v1h-1zM199 258h1v1h-1zM203 258h1v1h-1zM198 259h1v1h-1zM201 259h1v1h-1zM202 259h1v1h-1zM203 259h1v1h-1zM204 259h1v1h-1zM199 260h1v1h-1zM200 260h1v1h-1zM202 260h1v1h-1zM204 260h1v1h-1zM198 261h1v1h-1zM197 262h1v1h-1zM198 262h1v1h-1zM200 262h1v1h-1zM202 262h1v1h-1zM197 264h1v1h-1zM198 264h1v1h-1zM202 264h1v1h-1zM203 264h1v1h-1zM197 265h1v1h-1zM198 265h1v1h-1zM199 265h1v1h-1zM200 265h1v1h-1zM203 265h1v1h-1zM197 266h1v1h-1zM198 266h1v1h-1zM199 266h1v1h-1zM201 266h1v1h-1zM198 267h1v1h-1zM201 267h1v1h-1zM196 268h1v1h-1zM200 268h1v1h-1zM201 268h1v1h-1zM199 269h1v1h-1zM199 270h1v1h-1zM200 270h1v1h-1zM201 270h1v1h-1zM196 273h1v1h-1zM197 273h1v1h-1zM197 274h1v1h-1zM195 275h1v1h-1zM196 275h1v1h-1zM196 276h1v1h-1zM196 277h1v1h-1zM198 277h1v1h-1z"/></g><ellipse cx="197.9" cy="273.6" rx="5.4" ry="9.0" fill="#1a1aa8" transform="rotate(22 197.9 273.6)" opacity="0.9" filter="url(#f70)"/><ellipse cx="197.4" cy="274.6" rx="4.6" ry="7.6" fill="#2c3ae6" transform="rotate(22 197.4 274.6)" filter="url(#f60)"/><ellipse cx="196.8" cy="275.7" rx="3.8" ry="5.8" fill="#10b4ee" transform="rotate(22 196.8 275.7)" filter="url(#f60)"/><ellipse cx="196.3" cy="276.6" rx="3.0" ry="4.4" fill="#2ed868" transform="rotate(22 196.3 276.6)" filter="url(#f55)"/><ellipse cx="195.8" cy="277.6" rx="2.0" ry="2.9" fill="#e8e418" transform="rotate(22 195.8 277.6)" filter="url(#f50)"/><ellipse cx="195.4" cy="278.3" rx="1.3" ry="1.9" fill="#ee8a10" transform="rotate(22 195.4 278.3)" filter="url(#f45)"/>
<path d="M36.00 341.00C32.00 338.33 35.00 329.42 36.00 326.00C37.00 322.58 38.83 321.58 42.00 320.50C45.17 319.42 50.67 319.25 55.00 319.50C59.33 319.75 64.50 320.25 68.00 322.00C71.50 323.75 74.83 327.00 76.00 330.00C77.17 333.00 77.67 338.00 75.00 340.00C72.33 342.00 66.50 341.83 60.00 342.00C53.50 342.17 40.00 343.67 36.00 341.00Z" fill="#b4acf0" opacity="0.55" filter="url(#f140)"/><g filter="url(#f50)"><path fill="#d2caf6" d="M42 317h1v1h-1zM37 318h1v1h-1zM55 319h1v1h-1zM64 319h1v1h-1zM70 319h1v1h-1zM47 320h1v1h-1zM65 320h1v1h-1zM43 321h1v1h-1zM58 321h1v1h-1zM61 321h1v1h-1zM65 321h1v1h-1zM35 322h1v1h-1zM73 322h1v1h-1zM36 323h1v1h-1zM40 323h1v1h-1zM61 323h1v1h-1zM64 323h1v1h-1zM39 324h1v1h-1zM71 325h1v1h-1zM62 326h1v1h-1zM69 327h1v1h-1zM62 328h1v1h-1zM63 328h1v1h-1zM65 328h1v1h-1zM69 328h1v1h-1zM64 330h1v1h-1zM40 332h1v1h-1zM69 332h1v1h-1zM70 332h1v1h-1zM72 332h1v1h-1zM73 334h1v1h-1zM71 335h1v1h-1zM67 336h1v1h-1zM68 336h1v1h-1zM70 336h1v1h-1zM72 338h1v1h-1zM65 339h1v1h-1zM36 341h1v1h-1zM51 341h1v1h-1zM53 341h1v1h-1zM47 342h1v1h-1zM52 342h1v1h-1zM61 342h1v1h-1z"/><path fill="#e0daf8" d="M44 317h1v1h-1zM59 317h1v1h-1zM69 317h1v1h-1zM38 318h1v1h-1zM40 318h1v1h-1zM56 318h1v1h-1zM57 318h1v1h-1zM59 318h1v1h-1zM68 318h1v1h-1zM35 319h1v1h-1zM39 319h1v1h-1zM40 319h1v1h-1zM50 319h1v1h-1zM60 319h1v1h-1zM65 319h1v1h-1zM36 320h1v1h-1zM37 320h1v1h-1zM41 320h1v1h-1zM46 320h1v1h-1zM72 320h1v1h-1zM76 320h1v1h-1zM62 321h1v1h-1zM68 321h1v1h-1zM74 322h1v1h-1zM64 324h1v1h-1zM69 325h1v1h-1zM65 326h1v1h-1zM66 326h1v1h-1zM72 327h1v1h-1zM66 328h1v1h-1zM73 328h1v1h-1zM74 328h1v1h-1zM78 329h1v1h-1zM73 331h1v1h-1zM76 331h1v1h-1zM73 332h1v1h-1zM72 333h1v1h-1zM73 333h1v1h-1zM35 334h1v1h-1zM79 334h1v1h-1zM76 336h1v1h-1zM69 339h1v1h-1zM78 339h1v1h-1zM77 340h1v1h-1zM59 341h1v1h-1zM61 341h1v1h-1zM64 341h1v1h-1zM36 342h1v1h-1zM39 342h1v1h-1zM41 342h1v1h-1zM42 342h1v1h-1zM43 342h1v1h-1zM49 342h1v1h-1z"/><path fill="#c0b6f4" d="M47 319h1v1h-1zM51 319h1v1h-1zM57 319h1v1h-1zM59 319h1v1h-1zM40 320h1v1h-1zM56 320h1v1h-1zM58 320h1v1h-1zM53 321h1v1h-1zM56 321h1v1h-1zM60 321h1v1h-1zM37 322h1v1h-1zM43 322h1v1h-1zM45 322h1v1h-1zM65 322h1v1h-1zM39 323h1v1h-1zM59 323h1v1h-1zM66 323h1v1h-1zM35 324h1v1h-1zM41 324h1v1h-1zM37 325h1v1h-1zM40 325h1v1h-1zM63 325h1v1h-1zM65 325h1v1h-1zM66 325h1v1h-1zM37 326h1v1h-1zM60 326h1v1h-1zM63 326h1v1h-1zM39 327h1v1h-1zM40 327h1v1h-1zM67 328h1v1h-1zM68 328h1v1h-1zM38 329h1v1h-1zM59 329h1v1h-1zM61 329h1v1h-1zM62 329h1v1h-1zM64 329h1v1h-1zM70 329h1v1h-1zM72 329h1v1h-1zM37 330h1v1h-1zM38 330h1v1h-1zM68 330h1v1h-1zM36 331h1v1h-1zM37 331h1v1h-1zM38 331h1v1h-1zM43 331h1v1h-1zM72 331h1v1h-1zM68 332h1v1h-1zM75 332h1v1h-1zM39 333h1v1h-1zM41 333h1v1h-1zM44 333h1v1h-1zM47 333h1v1h-1zM68 333h1v1h-1zM69 333h1v1h-1zM36 334h1v1h-1zM40 334h1v1h-1zM43 334h1v1h-1zM39 335h1v1h-1zM35 336h1v1h-1zM35 337h1v1h-1zM37 337h1v1h-1zM67 337h1v1h-1zM68 337h1v1h-1zM64 338h1v1h-1zM65 338h1v1h-1zM66 338h1v1h-1zM60 339h1v1h-1zM62 339h1v1h-1zM64 339h1v1h-1zM62 340h1v1h-1zM38 341h1v1h-1zM41 341h1v1h-1zM47 341h1v1h-1zM54 341h1v1h-1zM56 341h1v1h-1zM38 342h1v1h-1z"/><path fill="#aca0f0" d="M45 320h1v1h-1zM48 320h1v1h-1zM48 321h1v1h-1zM50 321h1v1h-1zM59 321h1v1h-1zM63 321h1v1h-1zM64 321h1v1h-1zM47 322h1v1h-1zM48 322h1v1h-1zM51 322h1v1h-1zM59 322h1v1h-1zM64 322h1v1h-1zM66 322h1v1h-1zM35 323h1v1h-1zM52 323h1v1h-1zM53 323h1v1h-1zM55 323h1v1h-1zM58 323h1v1h-1zM36 324h1v1h-1zM37 324h1v1h-1zM45 324h1v1h-1zM55 324h1v1h-1zM58 324h1v1h-1zM59 324h1v1h-1zM63 324h1v1h-1zM41 325h1v1h-1zM56 325h1v1h-1zM57 325h1v1h-1zM62 325h1v1h-1zM68 325h1v1h-1zM61 326h1v1h-1zM64 326h1v1h-1zM38 327h1v1h-1zM54 327h1v1h-1zM56 327h1v1h-1zM58 327h1v1h-1zM40 328h1v1h-1zM41 328h1v1h-1zM51 328h1v1h-1zM39 329h1v1h-1zM41 329h1v1h-1zM42 329h1v1h-1zM49 329h1v1h-1zM60 329h1v1h-1zM68 329h1v1h-1zM50 330h1v1h-1zM52 330h1v1h-1zM55 330h1v1h-1zM56 330h1v1h-1zM60 330h1v1h-1zM67 330h1v1h-1zM41 331h1v1h-1zM42 331h1v1h-1zM44 331h1v1h-1zM45 331h1v1h-1zM46 331h1v1h-1zM54 331h1v1h-1zM56 331h1v1h-1zM58 331h1v1h-1zM59 331h1v1h-1zM61 331h1v1h-1zM63 331h1v1h-1zM67 331h1v1h-1zM68 331h1v1h-1zM51 332h1v1h-1zM52 332h1v1h-1zM55 332h1v1h-1zM35 333h1v1h-1zM56 333h1v1h-1zM66 333h1v1h-1zM67 333h1v1h-1zM41 334h1v1h-1zM45 334h1v1h-1zM47 334h1v1h-1zM54 334h1v1h-1zM69 334h1v1h-1zM70 334h1v1h-1zM38 335h1v1h-1zM43 335h1v1h-1zM50 335h1v1h-1zM54 335h1v1h-1zM66 335h1v1h-1zM67 335h1v1h-1zM70 335h1v1h-1zM37 336h1v1h-1zM44 336h1v1h-1zM36 338h1v1h-1zM61 338h1v1h-1zM59 339h1v1h-1zM67 339h1v1h-1zM35 340h1v1h-1zM41 340h1v1h-1zM48 340h1v1h-1zM54 340h1v1h-1zM55 340h1v1h-1zM58 340h1v1h-1zM65 340h1v1h-1zM37 341h1v1h-1zM40 341h1v1h-1zM45 341h1v1h-1zM60 341h1v1h-1z"/><path fill="#948aec" d="M50 320h1v1h-1zM52 320h1v1h-1zM41 321h1v1h-1zM42 321h1v1h-1zM52 321h1v1h-1zM54 321h1v1h-1zM42 322h1v1h-1zM44 322h1v1h-1zM50 322h1v1h-1zM56 322h1v1h-1zM61 322h1v1h-1zM46 323h1v1h-1zM48 323h1v1h-1zM57 323h1v1h-1zM60 323h1v1h-1zM62 323h1v1h-1zM40 324h1v1h-1zM46 324h1v1h-1zM48 324h1v1h-1zM57 324h1v1h-1zM61 324h1v1h-1zM44 325h1v1h-1zM46 325h1v1h-1zM50 325h1v1h-1zM53 325h1v1h-1zM55 325h1v1h-1zM52 326h1v1h-1zM48 327h1v1h-1zM50 327h1v1h-1zM47 328h1v1h-1zM57 328h1v1h-1zM60 328h1v1h-1zM61 328h1v1h-1zM40 329h1v1h-1zM52 329h1v1h-1zM55 329h1v1h-1zM56 329h1v1h-1zM66 329h1v1h-1zM40 330h1v1h-1zM42 330h1v1h-1zM44 330h1v1h-1zM48 330h1v1h-1zM53 330h1v1h-1zM57 330h1v1h-1zM58 330h1v1h-1zM59 330h1v1h-1zM48 331h1v1h-1zM50 331h1v1h-1zM52 331h1v1h-1zM66 331h1v1h-1zM36 332h1v1h-1zM49 332h1v1h-1zM53 332h1v1h-1zM56 332h1v1h-1zM63 332h1v1h-1zM45 333h1v1h-1zM46 333h1v1h-1zM50 333h1v1h-1zM55 333h1v1h-1zM57 333h1v1h-1zM58 333h1v1h-1zM60 333h1v1h-1zM48 334h1v1h-1zM51 334h1v1h-1zM52 334h1v1h-1zM56 334h1v1h-1zM58 334h1v1h-1zM35 335h1v1h-1zM36 335h1v1h-1zM52 335h1v1h-1zM57 335h1v1h-1zM60 335h1v1h-1zM38 336h1v1h-1zM42 336h1v1h-1zM48 336h1v1h-1zM62 336h1v1h-1zM66 336h1v1h-1zM39 337h1v1h-1zM41 337h1v1h-1zM48 337h1v1h-1zM37 338h1v1h-1zM41 338h1v1h-1zM45 338h1v1h-1zM67 338h1v1h-1zM36 339h1v1h-1zM40 339h1v1h-1zM45 339h1v1h-1zM38 340h1v1h-1zM46 340h1v1h-1zM50 340h1v1h-1zM57 340h1v1h-1zM61 340h1v1h-1zM49 341h1v1h-1zM52 341h1v1h-1z"/><path fill="#7c74e8" d="M51 321h1v1h-1zM57 321h1v1h-1zM46 322h1v1h-1zM49 322h1v1h-1zM53 322h1v1h-1zM54 322h1v1h-1zM55 322h1v1h-1zM42 323h1v1h-1zM47 323h1v1h-1zM49 323h1v1h-1zM42 324h1v1h-1zM49 324h1v1h-1zM50 324h1v1h-1zM51 324h1v1h-1zM52 324h1v1h-1zM42 325h1v1h-1zM45 325h1v1h-1zM47 325h1v1h-1zM48 325h1v1h-1zM58 325h1v1h-1zM61 325h1v1h-1zM45 326h1v1h-1zM48 326h1v1h-1zM57 326h1v1h-1zM41 327h1v1h-1zM42 327h1v1h-1zM44 327h1v1h-1zM45 327h1v1h-1zM55 327h1v1h-1zM57 327h1v1h-1zM38 328h1v1h-1zM42 328h1v1h-1zM43 328h1v1h-1zM44 328h1v1h-1zM53 328h1v1h-1zM55 328h1v1h-1zM45 329h1v1h-1zM54 329h1v1h-1zM57 329h1v1h-1zM39 330h1v1h-1zM43 330h1v1h-1zM45 330h1v1h-1zM47 330h1v1h-1zM49 330h1v1h-1zM61 330h1v1h-1zM63 330h1v1h-1zM47 331h1v1h-1zM53 331h1v1h-1zM41 332h1v1h-1zM42 332h1v1h-1zM50 332h1v1h-1zM59 332h1v1h-1zM65 332h1v1h-1zM42 333h1v1h-1zM48 333h1v1h-1zM53 333h1v1h-1zM54 333h1v1h-1zM65 333h1v1h-1zM49 334h1v1h-1zM50 334h1v1h-1zM53 334h1v1h-1zM59 334h1v1h-1zM67 334h1v1h-1zM68 334h1v1h-1zM41 335h1v1h-1zM44 335h1v1h-1zM46 335h1v1h-1zM55 335h1v1h-1zM59 335h1v1h-1zM63 335h1v1h-1zM64 335h1v1h-1zM65 335h1v1h-1zM68 335h1v1h-1zM36 336h1v1h-1zM58 336h1v1h-1zM59 336h1v1h-1zM60 336h1v1h-1zM63 336h1v1h-1zM36 337h1v1h-1zM43 337h1v1h-1zM45 337h1v1h-1zM47 337h1v1h-1zM51 337h1v1h-1zM55 337h1v1h-1zM57 337h1v1h-1zM59 337h1v1h-1zM60 337h1v1h-1zM62 337h1v1h-1zM63 337h1v1h-1zM65 337h1v1h-1zM38 338h1v1h-1zM43 338h1v1h-1zM44 338h1v1h-1zM46 338h1v1h-1zM48 338h1v1h-1zM53 338h1v1h-1zM55 338h1v1h-1zM62 338h1v1h-1zM35 339h1v1h-1zM38 339h1v1h-1zM46 339h1v1h-1zM47 339h1v1h-1zM50 339h1v1h-1zM51 339h1v1h-1zM54 339h1v1h-1zM58 339h1v1h-1zM39 340h1v1h-1zM40 340h1v1h-1zM44 340h1v1h-1zM45 340h1v1h-1zM47 340h1v1h-1zM52 340h1v1h-1zM56 340h1v1h-1z"/><path fill="#6460e2" d="M52 322h1v1h-1zM51 323h1v1h-1zM43 324h1v1h-1zM44 324h1v1h-1zM56 324h1v1h-1zM43 325h1v1h-1zM54 325h1v1h-1zM41 326h1v1h-1zM42 326h1v1h-1zM43 326h1v1h-1zM46 326h1v1h-1zM47 326h1v1h-1zM49 326h1v1h-1zM51 326h1v1h-1zM53 326h1v1h-1zM54 326h1v1h-1zM56 326h1v1h-1zM58 326h1v1h-1zM43 327h1v1h-1zM49 327h1v1h-1zM51 327h1v1h-1zM52 327h1v1h-1zM48 328h1v1h-1zM49 328h1v1h-1zM52 328h1v1h-1zM54 328h1v1h-1zM43 329h1v1h-1zM47 329h1v1h-1zM50 329h1v1h-1zM53 329h1v1h-1zM51 330h1v1h-1zM49 331h1v1h-1zM51 331h1v1h-1zM60 331h1v1h-1zM64 331h1v1h-1zM46 332h1v1h-1zM47 332h1v1h-1zM48 332h1v1h-1zM62 332h1v1h-1zM66 332h1v1h-1zM59 333h1v1h-1zM62 333h1v1h-1zM63 333h1v1h-1zM57 334h1v1h-1zM60 334h1v1h-1zM62 334h1v1h-1zM49 335h1v1h-1zM56 335h1v1h-1zM62 335h1v1h-1zM40 336h1v1h-1zM49 336h1v1h-1zM52 336h1v1h-1zM55 336h1v1h-1zM56 336h1v1h-1zM42 337h1v1h-1zM46 337h1v1h-1zM49 337h1v1h-1zM53 337h1v1h-1zM56 337h1v1h-1zM58 337h1v1h-1zM61 337h1v1h-1zM64 337h1v1h-1zM39 338h1v1h-1zM42 338h1v1h-1zM49 338h1v1h-1zM58 338h1v1h-1zM59 338h1v1h-1zM41 339h1v1h-1zM52 339h1v1h-1zM53 339h1v1h-1z"/><path fill="#4a48dc" d="M47 324h1v1h-1zM53 324h1v1h-1zM49 325h1v1h-1zM51 325h1v1h-1zM52 325h1v1h-1zM44 326h1v1h-1zM50 326h1v1h-1zM47 327h1v1h-1zM50 328h1v1h-1zM44 329h1v1h-1zM48 329h1v1h-1zM46 330h1v1h-1zM61 332h1v1h-1zM64 333h1v1h-1zM55 334h1v1h-1zM61 334h1v1h-1zM63 334h1v1h-1zM64 334h1v1h-1zM65 334h1v1h-1zM51 335h1v1h-1zM53 335h1v1h-1zM58 335h1v1h-1zM41 336h1v1h-1zM45 336h1v1h-1zM46 336h1v1h-1zM47 336h1v1h-1zM51 336h1v1h-1zM53 336h1v1h-1zM54 336h1v1h-1zM57 336h1v1h-1zM61 336h1v1h-1zM64 336h1v1h-1zM38 337h1v1h-1zM40 337h1v1h-1zM44 337h1v1h-1zM50 337h1v1h-1zM52 337h1v1h-1zM54 337h1v1h-1zM40 338h1v1h-1zM47 338h1v1h-1zM50 338h1v1h-1zM51 338h1v1h-1zM56 338h1v1h-1zM57 338h1v1h-1zM60 338h1v1h-1zM42 339h1v1h-1zM43 339h1v1h-1zM44 339h1v1h-1zM49 339h1v1h-1zM55 339h1v1h-1zM56 339h1v1h-1zM57 339h1v1h-1z"/></g><ellipse cx="63.2" cy="335.2" rx="5.5" ry="2.2" fill="#10b4ee" transform="rotate(-10 63.2 335.2)" opacity="0.7" filter="url(#f90)"/><ellipse cx="63.0" cy="335.4" rx="2.6" ry="1.1" fill="#40d8a8" transform="rotate(-10 63.0 335.4)" opacity="0.7" filter="url(#f60)"/><path d="M35.60 342.00L35.60 337.40L45.00 338.00L55.00 337.40L61.00 338.60L58.00 341.80Z" fill="#2c3ae6" filter="url(#f45)"/><ellipse cx="46" cy="340.6" rx="10" ry="1.0" fill="#2ed868" filter="url(#f45)"/><rect x="35.6" y="337.6" width="1.6" height="4.2" fill="#e8e418" filter="url(#f30)"/><rect x="35.6" y="338.8" width="1.0" height="2.8" fill="#ee8a10" filter="url(#f30)"/>
<ellipse cx="114" cy="338.4" rx="15.0" ry="2.8499999999999996" fill="#7c84ec" opacity="0.43" filter="url(#f110)"/><ellipse cx="117" cy="335.8" rx="6.75" ry="4.949999999999999" fill="#7c84ec" opacity="0.38" filter="url(#f200)"/><ellipse cx="117" cy="331" rx="12.0" ry="7.5" fill="#7c84ec" opacity="0.1" filter="url(#f300)"/><ellipse cx="116.8" cy="327" rx="1.0499999999999998" ry="7.5" fill="#7c84ec" opacity="0.27" filter="url(#f60)"/><g filter="url(#f50)"><path fill="#acaef2" d="M116 320h1v1h-1zM112 322h1v1h-1zM122 323h1v1h-1zM117 324h1v1h-1zM128 324h1v1h-1zM115 325h1v1h-1zM107 326h1v1h-1zM119 326h1v1h-1zM111 328h1v1h-1zM110 329h1v1h-1zM121 330h1v1h-1zM125 331h1v1h-1zM108 332h1v1h-1zM122 332h1v1h-1zM125 332h1v1h-1zM109 333h1v1h-1zM125 333h1v1h-1zM130 335h1v1h-1zM100 336h1v1h-1zM103 336h1v1h-1zM127 336h1v1h-1zM131 336h1v1h-1zM129 337h1v1h-1zM100 338h1v1h-1zM100 339h1v1h-1zM127 339h1v1h-1zM100 340h1v1h-1zM103 340h1v1h-1zM106 341h1v1h-1zM113 341h1v1h-1zM105 342h1v1h-1zM117 342h1v1h-1z"/><path fill="#d6d6f8" d="M112 324h1v1h-1zM122 324h1v1h-1zM118 326h1v1h-1zM126 330h1v1h-1zM127 333h1v1h-1zM135 339h1v1h-1z"/><path fill="#c2c4f6" d="M113 325h1v1h-1zM106 331h1v1h-1zM132 335h1v1h-1zM132 337h1v1h-1zM128 339h1v1h-1zM126 340h1v1h-1zM124 341h1v1h-1zM109 342h1v1h-1z"/><path fill="#4e56e4" d="M116 326h1v1h-1zM116 327h1v1h-1zM115 331h1v1h-1zM116 331h1v1h-1zM117 332h1v1h-1zM113 333h1v1h-1zM114 333h1v1h-1zM119 333h1v1h-1zM112 334h1v1h-1zM119 334h1v1h-1zM121 334h1v1h-1zM111 335h1v1h-1zM116 336h1v1h-1zM122 336h1v1h-1zM124 336h1v1h-1zM107 337h1v1h-1zM110 337h1v1h-1zM112 337h1v1h-1zM121 337h1v1h-1zM122 337h1v1h-1zM123 337h1v1h-1zM124 337h1v1h-1zM103 338h1v1h-1zM115 338h1v1h-1zM120 338h1v1h-1zM123 338h1v1h-1zM109 339h1v1h-1zM111 339h1v1h-1zM113 339h1v1h-1zM112 340h1v1h-1zM115 340h1v1h-1zM117 340h1v1h-1z"/><path fill="#9498f0" d="M113 328h1v1h-1zM120 328h1v1h-1zM115 329h1v1h-1zM110 330h1v1h-1zM123 331h1v1h-1zM112 332h1v1h-1zM121 332h1v1h-1zM111 334h1v1h-1zM126 337h1v1h-1zM105 340h1v1h-1zM109 340h1v1h-1zM125 340h1v1h-1zM118 341h1v1h-1z"/><path fill="#7c80ec" d="M115 328h1v1h-1zM115 330h1v1h-1zM117 330h1v1h-1zM119 331h1v1h-1zM122 331h1v1h-1zM118 332h1v1h-1zM110 333h1v1h-1zM121 333h1v1h-1zM123 333h1v1h-1zM108 334h1v1h-1zM124 334h1v1h-1zM108 335h1v1h-1zM110 335h1v1h-1zM122 335h1v1h-1zM99 337h1v1h-1zM103 337h1v1h-1zM105 337h1v1h-1zM106 337h1v1h-1zM99 338h1v1h-1zM127 338h1v1h-1zM124 339h1v1h-1zM115 341h1v1h-1z"/><path fill="#646aea" d="M116 328h1v1h-1zM116 329h1v1h-1zM118 331h1v1h-1zM114 332h1v1h-1zM115 332h1v1h-1zM119 332h1v1h-1zM110 334h1v1h-1zM120 334h1v1h-1zM122 334h1v1h-1zM123 334h1v1h-1zM107 335h1v1h-1zM112 335h1v1h-1zM107 336h1v1h-1zM123 336h1v1h-1zM125 337h1v1h-1zM104 338h1v1h-1zM105 338h1v1h-1zM125 338h1v1h-1zM126 338h1v1h-1zM104 339h1v1h-1zM106 339h1v1h-1zM107 339h1v1h-1zM114 340h1v1h-1zM119 340h1v1h-1zM114 341h1v1h-1zM116 341h1v1h-1z"/><path fill="#3a42e0" d="M117 329h1v1h-1zM116 330h1v1h-1zM117 331h1v1h-1zM116 332h1v1h-1zM116 333h1v1h-1zM117 333h1v1h-1zM118 333h1v1h-1zM113 334h1v1h-1zM114 334h1v1h-1zM115 334h1v1h-1zM116 334h1v1h-1zM117 334h1v1h-1zM118 334h1v1h-1zM113 335h1v1h-1zM114 335h1v1h-1zM115 335h1v1h-1zM117 335h1v1h-1zM118 335h1v1h-1zM119 335h1v1h-1zM120 335h1v1h-1zM109 336h1v1h-1zM110 336h1v1h-1zM111 336h1v1h-1zM112 336h1v1h-1zM113 336h1v1h-1zM114 336h1v1h-1zM115 336h1v1h-1zM117 336h1v1h-1zM118 336h1v1h-1zM119 336h1v1h-1zM120 336h1v1h-1zM121 336h1v1h-1zM108 337h1v1h-1zM109 337h1v1h-1zM111 337h1v1h-1zM114 337h1v1h-1zM115 337h1v1h-1zM116 337h1v1h-1zM117 337h1v1h-1zM118 337h1v1h-1zM119 337h1v1h-1zM120 337h1v1h-1zM107 338h1v1h-1zM108 338h1v1h-1zM109 338h1v1h-1zM110 338h1v1h-1zM111 338h1v1h-1zM112 338h1v1h-1zM113 338h1v1h-1zM116 338h1v1h-1zM117 338h1v1h-1zM118 338h1v1h-1zM119 338h1v1h-1zM121 338h1v1h-1zM122 338h1v1h-1zM108 339h1v1h-1zM110 339h1v1h-1zM112 339h1v1h-1zM114 339h1v1h-1zM115 339h1v1h-1zM116 339h1v1h-1zM117 339h1v1h-1zM118 339h1v1h-1zM119 339h1v1h-1zM120 339h1v1h-1zM121 339h1v1h-1zM122 339h1v1h-1zM116 340h1v1h-1zM118 340h1v1h-1z"/></g><path d="M101.00 339.60C100.42 339.03 100.50 337.50 101.50 337.00C102.50 336.50 105.25 336.87 107.00 336.60C108.75 336.33 110.67 335.90 112.00 335.40C113.33 334.90 114.08 333.93 115.00 333.60C115.92 333.27 116.58 333.20 117.50 333.40C118.42 333.60 119.25 334.20 120.50 334.80C121.75 335.40 123.83 336.33 125.00 337.00C126.17 337.67 127.50 338.17 127.50 338.80C127.50 339.43 126.92 340.38 125.00 340.80C123.08 341.22 119.33 341.37 116.00 341.30C112.67 341.23 107.50 340.68 105.00 340.40C102.50 340.12 101.58 340.17 101.00 339.60Z" fill="#2830d0" opacity="0.8" filter="url(#f60)"/><path d="M106.00 339.50C106.00 339.03 108.67 338.38 110.00 337.80C111.33 337.22 112.75 336.40 114.00 336.00C115.25 335.60 116.33 335.30 117.50 335.40C118.67 335.50 119.92 336.07 121.00 336.60C122.08 337.13 124.17 337.93 124.00 338.60C123.83 339.27 122.33 340.27 120.00 340.60C117.67 340.93 112.33 340.78 110.00 340.60C107.67 340.42 106.00 339.97 106.00 339.50Z" fill="#2c3ae6" filter="url(#f50)"/><ellipse cx="117.0" cy="338.8" rx="4.0" ry="2.1" fill="#10b4ee" filter="url(#f50)"/><ellipse cx="116.6" cy="339.2" rx="2.3" ry="1.6" fill="#2ed868" filter="url(#f45)"/><ellipse cx="116.4" cy="339.4" rx="1.1" ry="0.9" fill="#7ee030" filter="url(#f35)"/>
<ellipse cx="196" cy="336" rx="8.25" ry="6.0" fill="#7c84ec" transform="rotate(25 196 336)" opacity="0.41" filter="url(#f240)"/><ellipse cx="195" cy="328" rx="6.0" ry="5.25" fill="#7c84ec" opacity="0.16" filter="url(#f210)"/><g filter="url(#f50)"><path fill="#d6d6f8" d="M192 322h1v1h-1zM194 322h1v1h-1zM202 328h1v1h-1zM201 330h1v1h-1zM206 338h1v1h-1zM204 341h1v1h-1z"/><path fill="#acaef2" d="M194 323h1v1h-1zM198 324h1v1h-1zM198 325h1v1h-1zM201 325h1v1h-1zM192 326h1v1h-1zM195 326h1v1h-1zM197 326h1v1h-1zM203 330h1v1h-1zM205 331h1v1h-1zM205 334h1v1h-1zM207 336h1v1h-1zM190 339h1v1h-1zM203 341h1v1h-1z"/><path fill="#c2c4f6" d="M198 323h1v1h-1zM191 327h1v1h-1zM203 329h1v1h-1zM207 331h1v1h-1zM204 333h1v1h-1zM203 339h1v1h-1zM206 339h1v1h-1z"/><path fill="#9498f0" d="M193 324h1v1h-1zM194 324h1v1h-1zM193 325h1v1h-1zM190 327h1v1h-1zM190 328h1v1h-1zM196 328h1v1h-1zM191 329h1v1h-1zM192 329h1v1h-1zM195 329h1v1h-1zM198 329h1v1h-1zM198 331h1v1h-1zM190 333h1v1h-1zM206 335h1v1h-1zM201 337h1v1h-1zM192 338h1v1h-1zM201 339h1v1h-1zM194 340h1v1h-1zM198 340h1v1h-1z"/><path fill="#7c80ec" d="M194 326h1v1h-1zM197 329h1v1h-1zM198 330h1v1h-1zM193 331h1v1h-1zM200 331h1v1h-1zM198 333h1v1h-1zM192 334h1v1h-1zM199 334h1v1h-1zM201 334h1v1h-1zM191 335h1v1h-1zM199 335h1v1h-1zM201 335h1v1h-1zM199 336h1v1h-1zM190 337h1v1h-1zM202 337h1v1h-1zM195 338h1v1h-1zM199 338h1v1h-1zM200 338h1v1h-1zM202 338h1v1h-1zM196 342h1v1h-1z"/><path fill="#646aea" d="M193 327h1v1h-1zM195 327h1v1h-1zM194 328h1v1h-1zM191 330h1v1h-1zM192 331h1v1h-1zM190 332h1v1h-1zM192 333h1v1h-1zM196 333h1v1h-1zM199 333h1v1h-1zM201 333h1v1h-1zM190 334h1v1h-1zM193 334h1v1h-1zM194 334h1v1h-1zM200 334h1v1h-1zM200 335h1v1h-1zM198 336h1v1h-1zM198 337h1v1h-1zM191 338h1v1h-1zM193 338h1v1h-1zM196 338h1v1h-1zM195 339h1v1h-1zM197 339h1v1h-1zM199 339h1v1h-1zM196 340h1v1h-1z"/><path fill="#4e56e4" d="M193 328h1v1h-1zM192 330h1v1h-1zM193 330h1v1h-1zM196 331h1v1h-1zM193 332h1v1h-1zM196 332h1v1h-1zM197 332h1v1h-1zM198 332h1v1h-1zM193 333h1v1h-1zM196 334h1v1h-1zM197 334h1v1h-1zM192 335h1v1h-1zM194 335h1v1h-1zM196 335h1v1h-1zM197 335h1v1h-1zM194 336h1v1h-1zM196 336h1v1h-1zM197 336h1v1h-1zM193 337h1v1h-1zM197 337h1v1h-1zM199 337h1v1h-1zM200 337h1v1h-1zM196 339h1v1h-1z"/><path fill="#3a42e0" d="M195 332h1v1h-1zM194 333h1v1h-1zM195 333h1v1h-1zM197 333h1v1h-1zM195 334h1v1h-1zM198 334h1v1h-1zM195 335h1v1h-1zM198 335h1v1h-1zM192 336h1v1h-1zM194 337h1v1h-1zM195 337h1v1h-1zM196 337h1v1h-1zM194 338h1v1h-1zM197 338h1v1h-1z"/></g><path d="M191.80 341.60L191.80 332.00L193.20 329.60L195.00 330.40L197.50 333.50L202.00 336.50L206.50 339.00L208.20 341.60Z" fill="#1a1aa8" filter="url(#f45)"/><path d="M192.60 341.20L192.60 334.00L194.00 332.60L196.50 335.00L200.50 337.80L205.00 340.30L205.00 341.20Z" fill="#2c3ae6" filter="url(#f50)"/><ellipse cx="195.0" cy="339.6" rx="3.4" ry="1.8" fill="#10b4ee" filter="url(#f50)"/><ellipse cx="193.6" cy="339.4" rx="1.7" ry="2.0" fill="#2ed868" filter="url(#f45)"/><ellipse cx="193.2" cy="340.6" rx="0.9" ry="0.9" fill="#e8e418" filter="url(#f35)"/>
<rect x="85.45" y="34.00" width="57.15" height="44.60" fill="none" stroke="#b6b8c2" stroke-width="1.5"/>
<rect x="145.30" y="34.00" width="57.50" height="44.60" fill="none" stroke="#b6b8c2" stroke-width="1.5"/>
<rect x="85.45" y="81.10" width="57.15" height="44.90" fill="none" stroke="#b6b8c2" stroke-width="1.5"/>
<rect x="145.30" y="81.10" width="57.50" height="44.90" fill="none" stroke="#b6b8c2" stroke-width="1.5"/>
<rect x="23.10" y="143.10" width="57.40" height="43.20" fill="none" stroke="#b6b8c2" stroke-width="1.5"/>
<rect x="82.40" y="143.10" width="58.50" height="43.30" fill="none" stroke="#b6b8c2" stroke-width="1.5"/>
<rect x="155.60" y="143.10" width="57.50" height="43.30" fill="none" stroke="#b6b8c2" stroke-width="1.5"/>
<rect x="215.40" y="143.10" width="56.60" height="43.30" fill="none" stroke="#b6b8c2" stroke-width="1.5"/>
<rect x="118.50" y="53.40" width="12.50" height="13.70" fill="none" stroke="#858585" stroke-width="1.1"/>
<rect x="175.80" y="53.60" width="11.60" height="13.50" fill="none" stroke="#858585" stroke-width="1.1"/>
<rect x="46.30" y="159.40" width="24.30" height="17.90" fill="none" stroke="#858585" stroke-width="1.1"/>
<rect x="105.60" y="159.80" width="24.10" height="17.50" fill="none" stroke="#858585" stroke-width="1.1"/>
<rect x="237.30" y="160.30" width="20.40" height="18.20" fill="none" stroke="#858585" stroke-width="1.1"/>
<text x="117.40" y="44.90" font-size="6.4" stroke="#333" stroke-width="0.2" fill="#333" textLength="18.50" lengthAdjust="spacingAndGlyphs">0.03%</text>
<text x="177.80" y="44.90" font-size="6.4" stroke="#333" stroke-width="0.2" fill="#333" textLength="18.60" lengthAdjust="spacingAndGlyphs">0.02%</text>
<text x="117.10" y="94.10" font-size="6.4" stroke="#333" stroke-width="0.2" fill="#333" textLength="18.80" lengthAdjust="spacingAndGlyphs">50.1%</text>
<text x="177.80" y="93.60" font-size="6.4" stroke="#333" stroke-width="0.2" fill="#333" textLength="18.60" lengthAdjust="spacingAndGlyphs">49.4%</text>
<text x="49.80" y="153.90" font-size="6.4" stroke="#333" stroke-width="0.2" fill="#333" textLength="18.30" lengthAdjust="spacingAndGlyphs">52.7%</text>
<text x="109.80" y="153.90" font-size="6.4" stroke="#333" stroke-width="0.2" fill="#333" textLength="18.20" lengthAdjust="spacingAndGlyphs">82.2%</text>
<text x="182.80" y="153.90" font-size="6.4" stroke="#333" stroke-width="0.2" fill="#333" textLength="17.90" lengthAdjust="spacingAndGlyphs">70.5%</text>
<text x="240.60" y="153.90" font-size="6.4" stroke="#333" stroke-width="0.2" fill="#333" textLength="18.80" lengthAdjust="spacingAndGlyphs">0.03%</text>
<line x1="116.00" y1="116.80" x2="52.50" y2="144.90" stroke="#465a8e" stroke-width="1.15"/>
<path d="M52.50 144.90L55.61 141.55L57.07 144.85Z" fill="#465a8e"/>
<line x1="132.60" y1="116.60" x2="185.60" y2="144.90" stroke="#465a8e" stroke-width="1.15"/>
<path d="M185.60 144.90L181.05 144.51L182.74 141.33Z" fill="#465a8e"/>
<line x1="177.00" y1="116.40" x2="110.60" y2="145.00" stroke="#465a8e" stroke-width="1.15"/>
<path d="M110.60 145.00L113.75 141.69L115.17 144.99Z" fill="#465a8e"/>
<line x1="191.90" y1="116.40" x2="245.00" y2="145.00" stroke="#465a8e" stroke-width="1.15"/>
<path d="M245.00 145.00L240.45 144.59L242.16 141.42Z" fill="#465a8e"/>
<path d="M79.50 112.40V133.00H120.00" fill="none" stroke="#111" stroke-width="1.4"/>
<path d="M79.50 109.40L77.30 114.20L81.70 114.20Z" fill="#111"/>
<path d="M123.00 133.00L118.20 130.80L118.20 135.20Z" fill="#111"/>
<text x="125.10" y="135.80" font-size="8.4" font-weight="bold" fill="#1a1a1a" textLength="13.90" lengthAdjust="spacingAndGlyphs">CD34</text>
<text x="83.00" y="105.90" font-size="8.8" font-weight="bold" fill="#111" textLength="17.90" lengthAdjust="spacingAndGlyphs" transform="rotate(-90 83.00 105.90)">FSC-W</text>
<path d="M17.50 177.40V193.40H55.50" fill="none" stroke="#111" stroke-width="1.4"/>
<path d="M17.50 174.40L15.30 179.20L19.70 179.20Z" fill="#111"/>
<path d="M58.50 193.40L53.70 191.20L53.70 195.60Z" fill="#111"/>
<text x="61.50" y="196.20" font-size="8.6" font-weight="bold" fill="#111" textLength="20.50" lengthAdjust="spacingAndGlyphs">HLA-A2</text>
<text x="20.10" y="167.60" font-size="8.8" font-weight="bold" fill="#111" textLength="18.40" lengthAdjust="spacingAndGlyphs" transform="rotate(-90 20.10 167.60)">FSC-W</text>
<path d="M150.40 176.60V193.50H188.90" fill="none" stroke="#111" stroke-width="1.4"/>
<path d="M150.40 173.60L148.20 178.40L152.60 178.40Z" fill="#111"/>
<path d="M191.90 193.50L187.10 191.30L187.10 195.70Z" fill="#111"/>
<text x="195.00" y="196.10" font-size="8.6" font-weight="bold" fill="#111" textLength="22.00" lengthAdjust="spacingAndGlyphs">HLA-A24</text>
<text x="152.70" y="167.90" font-size="8.8" font-weight="bold" fill="#111" textLength="18.70" lengthAdjust="spacingAndGlyphs" transform="rotate(-90 152.70 167.90)">FSC-W</text>
<text x="7.60" y="239.40" font-size="11.2" stroke="#111" stroke-width="0.35" font-weight="bold" fill="#111">C</text>
<text x="44.70" y="245.50" font-size="8.2" stroke="#111" stroke-width="0.2" font-weight="bold" fill="#111" textLength="33.90" lengthAdjust="spacingAndGlyphs">Wild-type</text>
<text x="116.6" y="245.3" font-size="8.0" font-weight="bold" font-style="italic" fill="#111" stroke="#111" stroke-width="0.15">B*40:02<tspan font-size="4.8" dy="-2.8">mut</tspan></text>
<text x="194.50" y="245.40" font-size="8.2" stroke="#111" stroke-width="0.2" font-weight="bold" fill="#111" textLength="35.70" lengthAdjust="spacingAndGlyphs">6pLOH(+)</text>
<rect x="22.40" y="250.40" width="73.40" height="43.40" fill="none" stroke="#a2a2a2" stroke-width="1.4"/>
<rect x="98.40" y="250.40" width="73.90" height="43.40" fill="none" stroke="#a2a2a2" stroke-width="1.4"/>
<rect x="176.30" y="250.40" width="72.30" height="43.40" fill="none" stroke="#a2a2a2" stroke-width="1.4"/>
<rect x="22.40" y="308.20" width="74.00" height="44.60" fill="none" stroke="#a2a2a2" stroke-width="1.4"/>
<rect x="99.50" y="308.20" width="73.10" height="44.60" fill="none" stroke="#a2a2a2" stroke-width="1.4"/>
<rect x="176.30" y="308.20" width="73.40" height="44.60" fill="none" stroke="#a2a2a2" stroke-width="1.4"/>
<rect x="56.30" y="271.20" width="34.50" height="13.00" fill="none" stroke="#777" stroke-width="0.8"/>
<rect x="132.20" y="271.40" width="34.30" height="13.20" fill="none" stroke="#777" stroke-width="0.8"/>
<rect x="210.30" y="271.40" width="33.20" height="13.20" fill="none" stroke="#777" stroke-width="0.8"/>
<rect x="54.30" y="326.30" width="30.00" height="15.90" fill="none" stroke="#777" stroke-width="0.8"/>
<rect x="134.50" y="326.30" width="29.20" height="15.60" fill="none" stroke="#777" stroke-width="0.8"/>
<rect x="211.70" y="326.50" width="28.80" height="15.70" fill="none" stroke="#777" stroke-width="0.8"/>
<text x="63.80" y="291.60" font-size="6.4" stroke="#333" stroke-width="0.2" fill="#333" textLength="17.70" lengthAdjust="spacingAndGlyphs">41.3%</text>
<text x="140.60" y="291.60" font-size="6.4" stroke="#333" stroke-width="0.2" fill="#333" textLength="18.50" lengthAdjust="spacingAndGlyphs">32.5%</text>
<text x="220.00" y="291.60" font-size="6.4" stroke="#333" stroke-width="0.2" fill="#333" textLength="9.20" lengthAdjust="spacingAndGlyphs">0%</text>
<text x="59.70" y="349.60" font-size="6.4" stroke="#333" stroke-width="0.2" fill="#333" textLength="18.80" lengthAdjust="spacingAndGlyphs">34.3%</text>
<text x="141.10" y="349.00" font-size="6.4" stroke="#333" stroke-width="0.2" fill="#333" textLength="18.40" lengthAdjust="spacingAndGlyphs">0.81%</text>
<text x="211.20" y="348.80" font-size="6.4" stroke="#333" stroke-width="0.2" fill="#333" textLength="21.60" lengthAdjust="spacingAndGlyphs">0.073%</text>
<path d="M17.00 285.60V301.80H55.30" fill="none" stroke="#111" stroke-width="1.4"/>
<path d="M17.00 282.60L14.80 287.40L19.20 287.40Z" fill="#111"/>
<path d="M58.30 301.80L53.50 299.60L53.50 304.00Z" fill="#111"/>
<text x="62.00" y="303.40" font-size="8.2" font-weight="bold" fill="#111" textLength="23.00" lengthAdjust="spacingAndGlyphs">HLA-A24</text>
<text x="19.70" y="276.80" font-size="8.8" font-weight="bold" fill="#111" textLength="18.80" lengthAdjust="spacingAndGlyphs" transform="rotate(-90 19.70 276.80)">SSC-W</text>
<path d="M17.00 344.20V360.80H55.30" fill="none" stroke="#111" stroke-width="1.4"/>
<path d="M17.00 341.20L14.80 346.00L19.20 346.00Z" fill="#111"/>
<path d="M58.30 360.80L53.50 358.60L53.50 363.00Z" fill="#111"/>
<text x="62.00" y="363.70" font-size="8.4" font-weight="bold" fill="#111" textLength="30.00" lengthAdjust="spacingAndGlyphs">HLA-B4002</text>
<text x="19.90" y="334.80" font-size="8.8" font-weight="bold" fill="#111" textLength="17.90" lengthAdjust="spacingAndGlyphs" transform="rotate(-90 19.90 334.80)">FSC-W</text>
<text x="286.20" y="16.30" font-size="11.2" stroke="#111" stroke-width="0.35" font-weight="bold" fill="#111">B</text>
<line x1="327.20" y1="28.60" x2="327.20" y2="97.10" stroke="#111" stroke-width="1.4"/>
<line x1="326.50" y1="96.50" x2="491.80" y2="96.50" stroke="#111" stroke-width="1.3"/>
<line x1="324.20" y1="31.20" x2="327.20" y2="31.20" stroke="#111" stroke-width="1.1"/>
<text x="320.50" y="33.30" font-size="6.0" stroke="#333" stroke-width="0.2" text-anchor="end" fill="#333" textLength="12.40" lengthAdjust="spacingAndGlyphs">60%</text>
<line x1="324.20" y1="53.20" x2="327.20" y2="53.20" stroke="#111" stroke-width="1.1"/>
<text x="320.50" y="55.30" font-size="6.0" stroke="#333" stroke-width="0.2" text-anchor="end" fill="#333" textLength="12.40" lengthAdjust="spacingAndGlyphs">40%</text>
<line x1="324.20" y1="74.80" x2="327.20" y2="74.80" stroke="#111" stroke-width="1.1"/>
<text x="320.50" y="76.90" font-size="6.0" stroke="#333" stroke-width="0.2" text-anchor="end" fill="#333" textLength="12.40" lengthAdjust="spacingAndGlyphs">20%</text>
<line x1="324.20" y1="96.50" x2="327.20" y2="96.50" stroke="#111" stroke-width="1.1"/>
<text x="320.50" y="98.60" font-size="6.0" stroke="#333" stroke-width="0.2" text-anchor="end" fill="#333" textLength="9.00" lengthAdjust="spacingAndGlyphs">0%</text>
<rect x="330.00" y="46.10" width="10.30" height="50.40" fill="#6aa9de"/>
<rect x="341.00" y="50.40" width="10.30" height="46.10" fill="#a8062f"/>
<line x1="335.15" y1="38.20" x2="335.15" y2="46.60" stroke="#111" stroke-width="0.9"/>
<line x1="331.65" y1="38.20" x2="338.65" y2="38.20" stroke="#111" stroke-width="1.1"/>
<line x1="346.15" y1="44.40" x2="346.15" y2="50.90" stroke="#111" stroke-width="0.9"/>
<line x1="342.65" y1="44.40" x2="349.65" y2="44.40" stroke="#111" stroke-width="1.1"/>
<line x1="340.65" y1="96.50" x2="340.65" y2="98.40" stroke="#111" stroke-width="0.9"/>
<text x="340.65" y="109.20" font-size="6.4" text-anchor="middle" fill="#222" stroke="#222" stroke-width="0.2">CD34<tspan font-size="4.74" dy="-2.82" font-weight="bold" stroke-width="0">+</tspan></text>
<rect x="357.65" y="47.00" width="10.30" height="49.50" fill="#6aa9de"/>
<rect x="368.65" y="57.00" width="10.30" height="39.50" fill="#a8062f"/>
<line x1="362.80" y1="43.00" x2="362.80" y2="47.50" stroke="#111" stroke-width="0.9"/>
<line x1="359.30" y1="43.00" x2="366.30" y2="43.00" stroke="#111" stroke-width="1.1"/>
<line x1="373.80" y1="54.00" x2="373.80" y2="57.50" stroke="#111" stroke-width="0.9"/>
<line x1="370.30" y1="54.00" x2="377.30" y2="54.00" stroke="#111" stroke-width="1.1"/>
<line x1="368.30" y1="96.50" x2="368.30" y2="98.40" stroke="#111" stroke-width="0.9"/>
<text x="368.30" y="109.20" font-size="6.4" text-anchor="middle" fill="#222" stroke="#222" stroke-width="0.2">CD34<tspan font-size="4.74" dy="-2.82" font-weight="bold" stroke-width="0">+</tspan></text>
<text x="368.30" y="116.80" font-size="6.4" text-anchor="middle" fill="#222" stroke="#222" stroke-width="0.2">CD184<tspan font-size="4.74" dy="-2.82" font-weight="bold" stroke-width="0">+</tspan></text>
<rect x="385.30" y="61.30" width="10.30" height="35.20" fill="#6aa9de"/>
<rect x="396.30" y="72.00" width="10.30" height="24.50" fill="#a8062f"/>
<line x1="390.45" y1="58.00" x2="390.45" y2="61.80" stroke="#111" stroke-width="0.9"/>
<line x1="386.95" y1="58.00" x2="393.95" y2="58.00" stroke="#111" stroke-width="1.1"/>
<line x1="401.45" y1="69.30" x2="401.45" y2="72.50" stroke="#111" stroke-width="0.9"/>
<line x1="397.95" y1="69.30" x2="404.95" y2="69.30" stroke="#111" stroke-width="1.1"/>
<line x1="395.95" y1="96.50" x2="395.95" y2="98.40" stroke="#111" stroke-width="0.9"/>
<text x="395.95" y="109.20" font-size="6.4" text-anchor="middle" fill="#222" stroke="#222" stroke-width="0.2">CD34<tspan font-size="4.74" dy="-2.82" font-weight="bold" stroke-width="0">+</tspan></text>
<text x="395.95" y="116.80" font-size="6.4" text-anchor="middle" fill="#222" stroke="#222" stroke-width="0.2">CD90<tspan font-size="4.74" dy="-2.82" font-weight="bold" stroke-width="0">+</tspan></text>
<rect x="412.95" y="65.80" width="10.30" height="30.70" fill="#6aa9de"/>
<rect x="423.95" y="70.00" width="10.30" height="26.50" fill="#a8062f"/>
<line x1="418.10" y1="59.30" x2="418.10" y2="66.30" stroke="#111" stroke-width="0.9"/>
<line x1="414.60" y1="59.30" x2="421.60" y2="59.30" stroke="#111" stroke-width="1.1"/>
<line x1="429.10" y1="64.30" x2="429.10" y2="70.50" stroke="#111" stroke-width="0.9"/>
<line x1="425.60" y1="64.30" x2="432.60" y2="64.30" stroke="#111" stroke-width="1.1"/>
<line x1="423.60" y1="96.50" x2="423.60" y2="98.40" stroke="#111" stroke-width="0.9"/>
<text x="423.60" y="109.20" font-size="6.4" text-anchor="middle" fill="#222" stroke="#222" stroke-width="0.2">CD45<tspan font-size="4.74" dy="-2.82" font-weight="bold" stroke-width="0">+</tspan></text>
<rect x="440.60" y="74.50" width="10.30" height="22.00" fill="#6aa9de"/>
<rect x="451.60" y="74.50" width="10.30" height="22.00" fill="#a8062f"/>
<line x1="445.75" y1="70.80" x2="445.75" y2="75.00" stroke="#111" stroke-width="0.9"/>
<line x1="442.25" y1="70.80" x2="449.25" y2="70.80" stroke="#111" stroke-width="1.1"/>
<line x1="456.75" y1="69.50" x2="456.75" y2="75.00" stroke="#111" stroke-width="0.9"/>
<line x1="453.25" y1="69.50" x2="460.25" y2="69.50" stroke="#111" stroke-width="1.1"/>
<line x1="451.25" y1="96.50" x2="451.25" y2="98.40" stroke="#111" stroke-width="0.9"/>
<text x="451.25" y="109.20" font-size="6.4" text-anchor="middle" fill="#222" stroke="#222" stroke-width="0.2">CD34<tspan font-size="4.74" dy="-2.82" font-weight="bold" stroke-width="0">+</tspan></text>
<text x="451.25" y="116.80" font-size="6.4" text-anchor="middle" fill="#222" stroke="#222" stroke-width="0.2">CD45<tspan font-size="4.74" dy="-2.82" font-weight="bold" stroke-width="0">+</tspan></text>
<rect x="468.25" y="85.80" width="10.30" height="10.70" fill="#6aa9de"/>
<rect x="479.25" y="88.00" width="10.30" height="8.50" fill="#a8062f"/>
<line x1="473.40" y1="82.50" x2="473.40" y2="86.30" stroke="#111" stroke-width="0.9"/>
<line x1="469.90" y1="82.50" x2="476.90" y2="82.50" stroke="#111" stroke-width="1.1"/>
<line x1="484.40" y1="86.80" x2="484.40" y2="88.50" stroke="#111" stroke-width="0.9"/>
<line x1="480.90" y1="86.80" x2="487.90" y2="86.80" stroke="#111" stroke-width="1.1"/>
<line x1="478.90" y1="96.50" x2="478.90" y2="98.40" stroke="#111" stroke-width="0.9"/>
<text x="478.90" y="109.20" font-size="6.4" text-anchor="middle" fill="#222" stroke="#222" stroke-width="0.2">CD34<tspan font-size="4.74" dy="-2.82" font-weight="bold" stroke-width="0">+</tspan></text>
<text x="478.90" y="116.80" font-size="6.4" text-anchor="middle" fill="#222" stroke="#222" stroke-width="0.2">CD38<tspan font-size="4.74" dy="-2.82" font-weight="bold" stroke-width="0">+</tspan></text>
<rect x="456.30" y="42.00" width="10.00" height="5.20" fill="#6aa9de"/>
<rect x="456.30" y="52.00" width="10.00" height="5.20" fill="#a8062f"/>
<text x="468.80" y="47.20" font-size="5.8" stroke="#333" stroke-width="0.2" fill="#333" textLength="24.00" lengthAdjust="spacingAndGlyphs">Wild-type</text>
<text x="468.80" y="57.20" font-size="5.8" stroke="#333" stroke-width="0.2" fill="#333" textLength="26.50" lengthAdjust="spacingAndGlyphs">6pLOH(+)</text>
<text x="302.90" y="62.60" font-size="7.6" stroke="#111" stroke-width="0.32" text-anchor="middle" fill="#111" textLength="54.60" lengthAdjust="spacingAndGlyphs" transform="rotate(-90 302.90 62.60)">Total cells in culture</text>
<line x1="327.00" y1="126.20" x2="327.00" y2="193.10" stroke="#111" stroke-width="1.4"/>
<line x1="326.30" y1="192.50" x2="488.00" y2="192.50" stroke="#111" stroke-width="1.3"/>
<line x1="324.00" y1="128.00" x2="327.00" y2="128.00" stroke="#111" stroke-width="1.1"/>
<text x="320.30" y="130.10" font-size="6.0" stroke="#333" stroke-width="0.2" text-anchor="end" fill="#333" textLength="12.40" lengthAdjust="spacingAndGlyphs">60%</text>
<line x1="324.00" y1="149.50" x2="327.00" y2="149.50" stroke="#111" stroke-width="1.1"/>
<text x="320.30" y="151.60" font-size="6.0" stroke="#333" stroke-width="0.2" text-anchor="end" fill="#333" textLength="12.40" lengthAdjust="spacingAndGlyphs">40%</text>
<line x1="324.00" y1="171.20" x2="327.00" y2="171.20" stroke="#111" stroke-width="1.1"/>
<text x="320.30" y="173.30" font-size="6.0" stroke="#333" stroke-width="0.2" text-anchor="end" fill="#333" textLength="12.40" lengthAdjust="spacingAndGlyphs">20%</text>
<line x1="324.00" y1="192.50" x2="327.00" y2="192.50" stroke="#111" stroke-width="1.1"/>
<text x="320.30" y="194.60" font-size="6.0" stroke="#333" stroke-width="0.2" text-anchor="end" fill="#333" textLength="9.00" lengthAdjust="spacingAndGlyphs">0%</text>
<rect x="330.50" y="142.50" width="10.00" height="50.00" fill="#6aa9de"/>
<rect x="341.50" y="155.50" width="10.00" height="37.00" fill="#a8062f"/>
<line x1="335.50" y1="139.50" x2="335.50" y2="143.00" stroke="#111" stroke-width="0.9"/>
<line x1="332.00" y1="139.50" x2="339.00" y2="139.50" stroke="#111" stroke-width="1.1"/>
<line x1="346.50" y1="153.00" x2="346.50" y2="156.00" stroke="#111" stroke-width="0.9"/>
<line x1="343.00" y1="153.00" x2="350.00" y2="153.00" stroke="#111" stroke-width="1.1"/>
<line x1="341.00" y1="192.50" x2="341.00" y2="194.40" stroke="#111" stroke-width="0.9"/>
<text x="341.00" y="205.20" font-size="6.3" stroke="#2a2a2a" stroke-width="0.2" text-anchor="middle" fill="#2a2a2a">HLA-</text>
<text x="341.00" y="212.80" font-size="6.4" text-anchor="middle" fill="#222" stroke="#222" stroke-width="0.2">ABC<tspan font-size="4.74" dy="-2.82" font-weight="bold" stroke-width="0">+</tspan></text>
<rect x="357.50" y="138.80" width="10.00" height="53.70" fill="#6aa9de"/>
<rect x="368.50" y="145.80" width="10.00" height="46.70" fill="#a8062f"/>
<line x1="362.50" y1="137.50" x2="362.50" y2="139.30" stroke="#111" stroke-width="0.9"/>
<line x1="359.00" y1="137.50" x2="366.00" y2="137.50" stroke="#111" stroke-width="1.1"/>
<line x1="373.50" y1="144.30" x2="373.50" y2="146.30" stroke="#111" stroke-width="0.9"/>
<line x1="370.00" y1="144.30" x2="377.00" y2="144.30" stroke="#111" stroke-width="1.1"/>
<line x1="368.00" y1="192.50" x2="368.00" y2="194.40" stroke="#111" stroke-width="0.9"/>
<text x="368.00" y="205.20" font-size="6.3" stroke="#2a2a2a" stroke-width="0.2" text-anchor="middle" fill="#2a2a2a">HLA-</text>
<text x="368.00" y="212.80" font-size="6.4" text-anchor="middle" fill="#222" stroke="#222" stroke-width="0.2">E<tspan font-size="4.74" dy="-2.82" font-weight="bold" stroke-width="0">+</tspan></text>
<rect x="384.50" y="138.80" width="10.00" height="53.70" fill="#6aa9de"/>
<rect x="395.50" y="139.50" width="10.00" height="53.00" fill="#a8062f"/>
<line x1="389.50" y1="136.50" x2="389.50" y2="139.30" stroke="#111" stroke-width="0.9"/>
<line x1="386.00" y1="136.50" x2="393.00" y2="136.50" stroke="#111" stroke-width="1.1"/>
<line x1="400.50" y1="137.50" x2="400.50" y2="140.00" stroke="#111" stroke-width="0.9"/>
<line x1="397.00" y1="137.50" x2="404.00" y2="137.50" stroke="#111" stroke-width="1.1"/>
<line x1="395.00" y1="192.50" x2="395.00" y2="194.40" stroke="#111" stroke-width="0.9"/>
<text x="395.00" y="205.20" font-size="6.3" stroke="#2a2a2a" stroke-width="0.2" text-anchor="middle" fill="#2a2a2a">HLA-</text>
<text x="395.00" y="212.80" font-size="6.4" text-anchor="middle" fill="#222" stroke="#222" stroke-width="0.2">DR<tspan font-size="4.74" dy="-2.82" font-weight="bold" stroke-width="0">+</tspan></text>
<rect x="411.50" y="158.30" width="10.00" height="34.20" fill="#6aa9de"/>
<rect x="422.50" y="142.00" width="10.00" height="50.50" fill="#a8062f"/>
<line x1="416.50" y1="155.50" x2="416.50" y2="158.80" stroke="#111" stroke-width="0.9"/>
<line x1="413.00" y1="155.50" x2="420.00" y2="155.50" stroke="#111" stroke-width="1.1"/>
<line x1="427.50" y1="135.00" x2="427.50" y2="142.50" stroke="#111" stroke-width="0.9"/>
<line x1="424.00" y1="135.00" x2="431.00" y2="135.00" stroke="#111" stroke-width="1.1"/>
<line x1="422.00" y1="192.50" x2="422.00" y2="194.40" stroke="#111" stroke-width="0.9"/>
<text x="422.00" y="205.20" font-size="6.3" stroke="#2a2a2a" stroke-width="0.2" text-anchor="middle" fill="#2a2a2a">HLA-</text>
<text x="422.00" y="212.80" font-size="6.4" text-anchor="middle" fill="#222" stroke="#222" stroke-width="0.2">A2<tspan font-size="4.74" dy="-2.82" font-weight="bold" stroke-width="0">+</tspan></text>
<rect x="438.50" y="166.30" width="10.00" height="26.20" fill="#6aa9de"/>
<rect x="449.50" y="192.00" width="10.00" height="0.50" fill="#a8062f"/>
<line x1="443.50" y1="162.50" x2="443.50" y2="166.80" stroke="#111" stroke-width="0.9"/>
<line x1="440.00" y1="162.50" x2="447.00" y2="162.50" stroke="#111" stroke-width="1.1"/>
<line x1="449.00" y1="192.50" x2="449.00" y2="194.40" stroke="#111" stroke-width="0.9"/>
<text x="449.00" y="205.20" font-size="6.3" stroke="#2a2a2a" stroke-width="0.2" text-anchor="middle" fill="#2a2a2a">HLA-</text>
<text x="449.00" y="212.80" font-size="6.4" text-anchor="middle" fill="#222" stroke="#222" stroke-width="0.2">A24<tspan font-size="4.74" dy="-2.82" font-weight="bold" stroke-width="0">+</tspan></text>
<rect x="465.50" y="179.50" width="10.00" height="13.00" fill="#6aa9de"/>
<rect x="476.50" y="178.00" width="10.00" height="14.50" fill="#a8062f"/>
<line x1="470.50" y1="176.30" x2="470.50" y2="180.00" stroke="#111" stroke-width="0.9"/>
<line x1="467.00" y1="176.30" x2="474.00" y2="176.30" stroke="#111" stroke-width="1.1"/>
<line x1="481.50" y1="176.30" x2="481.50" y2="178.50" stroke="#111" stroke-width="0.9"/>
<line x1="478.00" y1="176.30" x2="485.00" y2="176.30" stroke="#111" stroke-width="1.1"/>
<line x1="476.00" y1="192.50" x2="476.00" y2="194.40" stroke="#111" stroke-width="0.9"/>
<text x="476.00" y="205.20" font-size="6.3" stroke="#2a2a2a" stroke-width="0.2" text-anchor="middle" fill="#2a2a2a">HLA-</text>
<text x="476.00" y="212.80" font-size="6.4" text-anchor="middle" fill="#222" stroke="#222" stroke-width="0.2">G<tspan font-size="4.74" dy="-2.82" font-weight="bold" stroke-width="0">+</tspan></text>
<path d="M411.3 134.0V131.6H428.6V134.0" fill="none" stroke="#111" stroke-width="1.1"/>
<text x="419.80" y="130.60" font-size="7.4" stroke="#111" stroke-width="0.2" text-anchor="middle" fill="#111">*</text>
<path d="M441.7 160.6V158.5H457.8V160.6" fill="none" stroke="#111" stroke-width="1.1"/>
<text x="450.00" y="157.40" font-size="7.4" stroke="#111" stroke-width="0.2" text-anchor="middle" fill="#111" textLength="8.20" lengthAdjust="spacingAndGlyphs">***</text>
<text x="292.40" y="161.40" font-size="7.6" stroke="#111" stroke-width="0.32" text-anchor="middle" fill="#111" transform="rotate(-90 292.40 161.40)">Total CD34<tspan font-size="5.2" dy="-2.6">+</tspan></text>
<text x="304.20" y="159.90" font-size="7.6" stroke="#111" stroke-width="0.32" text-anchor="middle" fill="#111" textLength="40.00" lengthAdjust="spacingAndGlyphs" transform="rotate(-90 304.20 159.90)">cells in culture</text>
<text x="285.70" y="238.80" font-size="11.2" stroke="#111" stroke-width="0.35" font-weight="bold" fill="#111">D</text>
<line x1="327.10" y1="258.20" x2="327.10" y2="337.00" stroke="#111" stroke-width="1.4"/>
<line x1="326.40" y1="336.40" x2="466.00" y2="336.40" stroke="#111" stroke-width="1.3"/>
<line x1="324.10" y1="259.30" x2="327.10" y2="259.30" stroke="#111" stroke-width="1.1"/>
<text x="320.80" y="261.40" font-size="6.0" stroke="#333" stroke-width="0.2" text-anchor="end" fill="#333" textLength="12.80" lengthAdjust="spacingAndGlyphs">80%</text>
<line x1="324.10" y1="279.40" x2="327.10" y2="279.40" stroke="#111" stroke-width="1.1"/>
<text x="320.80" y="281.50" font-size="6.0" stroke="#333" stroke-width="0.2" text-anchor="end" fill="#333" textLength="12.80" lengthAdjust="spacingAndGlyphs">60%</text>
<line x1="324.10" y1="298.30" x2="327.10" y2="298.30" stroke="#111" stroke-width="1.1"/>
<text x="320.80" y="300.40" font-size="6.0" stroke="#333" stroke-width="0.2" text-anchor="end" fill="#333" textLength="12.80" lengthAdjust="spacingAndGlyphs">40%</text>
<line x1="324.10" y1="317.60" x2="327.10" y2="317.60" stroke="#111" stroke-width="1.1"/>
<text x="320.80" y="319.70" font-size="6.0" stroke="#333" stroke-width="0.2" text-anchor="end" fill="#333" textLength="12.80" lengthAdjust="spacingAndGlyphs">20%</text>
<line x1="324.10" y1="336.40" x2="327.10" y2="336.40" stroke="#111" stroke-width="1.1"/>
<text x="320.80" y="338.50" font-size="6.0" stroke="#333" stroke-width="0.2" text-anchor="end" fill="#333" textLength="9.00" lengthAdjust="spacingAndGlyphs">0%</text>
<rect x="331.30" y="283.80" width="12.20" height="52.60" fill="#6aa9de"/>
<line x1="337.40" y1="280.00" x2="337.40" y2="284.30" stroke="#111" stroke-width="0.9"/>
<line x1="333.60" y1="280.00" x2="341.20" y2="280.00" stroke="#111" stroke-width="1.1"/>
<rect x="344.80" y="283.30" width="12.20" height="53.10" fill="#6aaa3c"/>
<line x1="350.90" y1="281.30" x2="350.90" y2="283.80" stroke="#111" stroke-width="0.9"/>
<line x1="347.10" y1="281.30" x2="354.70" y2="281.30" stroke="#111" stroke-width="1.1"/>
<rect x="358.30" y="289.30" width="12.20" height="47.10" fill="#a8062f"/>
<line x1="364.40" y1="285.80" x2="364.40" y2="289.80" stroke="#111" stroke-width="0.9"/>
<line x1="360.60" y1="285.80" x2="368.20" y2="285.80" stroke="#111" stroke-width="1.1"/>
<line x1="350.70" y1="336.40" x2="350.70" y2="338.40" stroke="#111" stroke-width="0.9"/>
<rect x="378.00" y="305.50" width="12.20" height="30.90" fill="#6aa9de"/>
<line x1="384.10" y1="303.30" x2="384.10" y2="306.00" stroke="#111" stroke-width="0.9"/>
<line x1="380.30" y1="303.30" x2="387.90" y2="303.30" stroke="#111" stroke-width="1.1"/>
<rect x="391.50" y="301.80" width="12.20" height="34.60" fill="#6aaa3c"/>
<line x1="397.60" y1="299.50" x2="397.60" y2="302.30" stroke="#111" stroke-width="0.9"/>
<line x1="393.80" y1="299.50" x2="401.40" y2="299.50" stroke="#111" stroke-width="1.1"/>
<rect x="405.00" y="299.50" width="12.20" height="36.90" fill="#a8062f"/>
<line x1="411.10" y1="298.00" x2="411.10" y2="300.00" stroke="#111" stroke-width="0.9"/>
<line x1="407.30" y1="298.00" x2="414.90" y2="298.00" stroke="#111" stroke-width="1.1"/>
<line x1="397.40" y1="336.40" x2="397.40" y2="338.40" stroke="#111" stroke-width="0.9"/>
<rect x="424.50" y="298.30" width="12.20" height="38.10" fill="#6aa9de"/>
<line x1="430.60" y1="295.30" x2="430.60" y2="298.80" stroke="#111" stroke-width="0.9"/>
<line x1="426.80" y1="295.30" x2="434.40" y2="295.30" stroke="#111" stroke-width="1.1"/>
<rect x="438.00" y="303.30" width="12.20" height="33.10" fill="#6aaa3c"/>
<line x1="444.10" y1="300.40" x2="444.10" y2="303.80" stroke="#111" stroke-width="0.9"/>
<line x1="440.30" y1="300.40" x2="447.90" y2="300.40" stroke="#111" stroke-width="1.1"/>
<line x1="452.50" y1="335.30" x2="462.50" y2="335.30" stroke="#222" stroke-width="1.0"/>
<line x1="443.90" y1="336.40" x2="443.90" y2="338.40" stroke="#111" stroke-width="0.9"/>
<text x="350.80" y="349.90" font-size="6.4" text-anchor="middle" fill="#222" stroke="#222" stroke-width="0.2">CD34<tspan font-size="4.74" dy="-2.82" font-weight="bold" stroke-width="0">+</tspan></text>
<text x="398.00" y="349.90" font-size="6.4" text-anchor="middle" fill="#222" stroke="#222" stroke-width="0.2">CD34<tspan font-size="4.74" dy="-2.82" font-weight="bold" stroke-width="0">+</tspan></text>
<text x="398.00" y="357.40" font-size="6.4" text-anchor="middle" fill="#222" stroke="#222" stroke-width="0.2">HLA-A2<tspan font-size="4.74" dy="-2.82" font-weight="bold" stroke-width="0">+</tspan></text>
<text x="444.20" y="349.90" font-size="6.4" text-anchor="middle" fill="#222" stroke="#222" stroke-width="0.2">CD34<tspan font-size="4.74" dy="-2.82" font-weight="bold" stroke-width="0">+</tspan></text>
<text x="444.20" y="357.40" font-size="6.4" text-anchor="middle" fill="#222" stroke="#222" stroke-width="0.2">HLA-A24<tspan font-size="4.74" dy="-2.82" font-weight="bold" stroke-width="0">+</tspan></text>
<text x="303.90" y="296.20" font-size="7.6" stroke="#111" stroke-width="0.32" text-anchor="middle" fill="#111" textLength="52.60" lengthAdjust="spacingAndGlyphs" transform="rotate(-90 303.90 296.20)">Total cells in culture</text>
<path d="M430.4 293.4V290.8H445.5V293.4" fill="none" stroke="#111" stroke-width="1.0"/>
<text x="437.90" y="288.60" font-size="5.6" stroke="#222" stroke-width="0.2" text-anchor="middle" textLength="7.90" lengthAdjust="spacingAndGlyphs">NS</text>
<path d="M432.3 281.9V279.6H459.6V281.9M445.2 279.6V281.9" fill="none" stroke="#111" stroke-width="1.0"/>
<text x="446.20" y="278.60" font-size="7.0" stroke="#111" stroke-width="0.2" text-anchor="middle" fill="#111">***</text>
<text x="474.20" y="274.60" font-size="6.4" font-weight="bold">*</text>
<text x="483.80" y="273.90" font-size="5.8" stroke="#222" stroke-width="0.1" font-style="italic" textLength="19.00" lengthAdjust="spacingAndGlyphs">P&lt;0.05</text>
<text x="474.00" y="281.80" font-size="6.4" font-weight="bold">**</text>
<text x="483.80" y="281.30" font-size="5.8" stroke="#222" stroke-width="0.1" font-style="italic" textLength="18.00" lengthAdjust="spacingAndGlyphs">P&lt;0.01</text>
<text x="473.60" y="289.60" font-size="6.4" font-weight="bold">***</text>
<text x="481.40" y="289.20" font-size="5.8" stroke="#222" stroke-width="0.1" font-style="italic" textLength="21.80" lengthAdjust="spacingAndGlyphs">P&lt;0.001</text>
<rect x="461.20" y="293.20" width="9.10" height="4.90" fill="#6aa9de"/>
<rect x="461.20" y="303.00" width="9.10" height="4.90" fill="#6aaa3c"/>
<rect x="461.20" y="312.30" width="9.10" height="4.90" fill="#a8062f"/>
<text x="473.50" y="298.20" font-size="5.8" stroke="#333" stroke-width="0.2" fill="#333" textLength="24.20" lengthAdjust="spacingAndGlyphs">Wild-type</text>
<text x="473.5" y="307.9" font-size="5.8" font-style="italic" fill="#333">B*40:02<tspan font-size="3.6" dy="-2.2">mut</tspan></text>
<text x="473.50" y="317.20" font-size="5.8" stroke="#333" stroke-width="0.2" fill="#333" textLength="26.50" lengthAdjust="spacingAndGlyphs">6pLOH(+)</text>
<text x="7.40" y="389.60" font-size="11.2" stroke="#111" stroke-width="0.35" font-weight="bold" fill="#111">E</text>
<path d="M95.0 433.3L95.00 399.70A33.6 33.6 0 0 1 127.46 442.00Z" fill="#2d4e8e"/>
<path d="M95.0 433.3L127.46 442.00A33.6 33.6 0 0 1 85.18 465.43Z" fill="#e4932c"/>
<path d="M95.0 433.3L85.18 465.43A33.6 33.6 0 0 1 61.41 432.71Z" fill="#6bac46"/>
<path d="M95.0 433.3L61.41 432.71A33.6 33.6 0 0 1 65.20 417.79Z" fill="#dcd3da"/>
<path d="M95.0 433.3L65.20 417.79A33.6 33.6 0 0 1 95.00 399.70Z" fill="#b3123c"/>
<text x="83.80" y="412.20" font-size="6.4" stroke="#fff" stroke-width="0.2" text-anchor="middle" fill="#fff" textLength="11.60" lengthAdjust="spacingAndGlyphs">17%</text>
<text x="84.60" y="420.00" font-size="6.8" stroke="#fff" stroke-width="0.2" text-anchor="middle" fill="#fff" textLength="17.70" lengthAdjust="spacingAndGlyphs">BFU-E</text>
<text x="108.60" y="419.20" font-size="6.4" stroke="#fff" stroke-width="0.2" text-anchor="middle" fill="#fff" textLength="10.30" lengthAdjust="spacingAndGlyphs">29%</text>
<text x="109.80" y="427.00" font-size="6.8" stroke="#fff" stroke-width="0.2" text-anchor="middle" fill="#fff" textLength="26.50" lengthAdjust="spacingAndGlyphs">CFU-GM</text>
<text x="68.50" y="422.40" font-size="6.0" stroke="#333" stroke-width="0.2" text-anchor="middle" fill="#333">7%</text>
<text x="69.40" y="431.40" font-size="6.8" stroke="#333" stroke-width="0.2" text-anchor="middle" fill="#333" textLength="35.80" lengthAdjust="spacingAndGlyphs">CFU-GEMM</text>
<text x="77.50" y="444.30" font-size="6.4" stroke="#fff" stroke-width="0.2" text-anchor="middle" fill="#fff" textLength="10.40" lengthAdjust="spacingAndGlyphs">21%</text>
<text x="78.60" y="451.20" font-size="6.8" stroke="#fff" stroke-width="0.2" text-anchor="middle" fill="#fff" textLength="19.70" lengthAdjust="spacingAndGlyphs">CFU-M</text>
<text x="104.00" y="448.90" font-size="6.4" stroke="#fff" stroke-width="0.2" text-anchor="middle" fill="#fff" textLength="10.40" lengthAdjust="spacingAndGlyphs">26%</text>
<text x="105.20" y="457.00" font-size="6.8" stroke="#fff" stroke-width="0.2" text-anchor="middle" fill="#fff" textLength="19.60" lengthAdjust="spacingAndGlyphs">CFU-G</text>
<path d="M48.0 405.2H68.8L72.5 408.6" fill="none" stroke="#111" stroke-width="1.1"/>
<path d="M118.0 409.4L121.0 406.6H134.4" fill="none" stroke="#111" stroke-width="1.1"/>
<path d="M48.0 425.0H63.0" fill="none" stroke="#111" stroke-width="1.1"/>
<path d="M48.0 461.0H60.6L68.6 453.8" fill="none" stroke="#111" stroke-width="1.1"/>
<path d="M118.0 457.6L122.4 461.3H133.6" fill="none" stroke="#111" stroke-width="1.1"/>
<text x="12.60" y="407.70" font-size="6.4" stroke="#222" stroke-width="0.2" textLength="33.00" lengthAdjust="spacingAndGlyphs">16.80±2.39</text>
<text x="137.40" y="409.40" font-size="6.4" stroke="#222" stroke-width="0.2" textLength="32.00" lengthAdjust="spacingAndGlyphs">28.29±3.31</text>
<text x="17.90" y="426.60" font-size="6.4" stroke="#222" stroke-width="0.2" textLength="26.90" lengthAdjust="spacingAndGlyphs">7.67±1.18</text>
<text x="12.90" y="464.00" font-size="6.4" stroke="#222" stroke-width="0.2" textLength="32.60" lengthAdjust="spacingAndGlyphs">21.20±1.43</text>
<text x="137.80" y="463.60" font-size="6.4" stroke="#222" stroke-width="0.2" textLength="32.20" lengthAdjust="spacingAndGlyphs">25.70±3.34</text>
<text x="182.40" y="390.10" font-size="11.2" stroke="#111" stroke-width="0.35" font-weight="bold" fill="#111">F</text>
<line x1="232.30" y1="397.20" x2="232.30" y2="447.60" stroke="#111" stroke-width="1.4"/>
<line x1="231.60" y1="446.80" x2="297.90" y2="446.80" stroke="#111" stroke-width="1.6"/>
<rect x="232.90" y="401.30" width="36.39" height="10.10" fill="#4b2470"/>
<line x1="268.79" y1="406.35" x2="274.49" y2="406.35" stroke="#111" stroke-width="1.0"/>
<line x1="274.49" y1="403.95" x2="274.49" y2="408.75" stroke="#111" stroke-width="1.2"/>
<line x1="228.70" y1="406.35" x2="232.30" y2="406.35" stroke="#111" stroke-width="1.1"/>
<rect x="232.90" y="416.80" width="40.09" height="10.50" fill="#9b80b3"/>
<line x1="272.49" y1="422.05" x2="277.08" y2="422.05" stroke="#111" stroke-width="1.0"/>
<line x1="277.08" y1="419.65" x2="277.08" y2="424.45" stroke="#111" stroke-width="1.2"/>
<line x1="228.70" y1="422.05" x2="232.30" y2="422.05" stroke="#111" stroke-width="1.1"/>
<rect x="232.90" y="432.60" width="44.18" height="10.50" fill="#d2c5df"/>
<line x1="276.58" y1="437.85" x2="282.92" y2="437.85" stroke="#111" stroke-width="1.0"/>
<line x1="282.92" y1="435.45" x2="282.92" y2="440.25" stroke="#111" stroke-width="1.2"/>
<line x1="228.70" y1="437.85" x2="232.30" y2="437.85" stroke="#111" stroke-width="1.1"/>
<line x1="232.30" y1="446.80" x2="232.30" y2="449.60" stroke="#111" stroke-width="1.1"/>
<text x="232.30" y="457.60" font-size="6.4" stroke="#333" stroke-width="0.16" text-anchor="middle" fill="#333" textLength="8.50" lengthAdjust="spacingAndGlyphs">0.0</text>
<line x1="245.28" y1="446.80" x2="245.28" y2="449.60" stroke="#111" stroke-width="1.1"/>
<text x="245.28" y="457.60" font-size="6.4" stroke="#333" stroke-width="0.16" text-anchor="middle" fill="#333" textLength="8.50" lengthAdjust="spacingAndGlyphs">0.2</text>
<line x1="258.26" y1="446.80" x2="258.26" y2="449.60" stroke="#111" stroke-width="1.1"/>
<text x="258.26" y="457.60" font-size="6.4" stroke="#333" stroke-width="0.16" text-anchor="middle" fill="#333" textLength="8.50" lengthAdjust="spacingAndGlyphs">0.4</text>
<line x1="271.24" y1="446.80" x2="271.24" y2="449.60" stroke="#111" stroke-width="1.1"/>
<text x="271.24" y="457.60" font-size="6.4" stroke="#333" stroke-width="0.16" text-anchor="middle" fill="#333" textLength="8.50" lengthAdjust="spacingAndGlyphs">0.6</text>
<line x1="284.22" y1="446.80" x2="284.22" y2="449.60" stroke="#111" stroke-width="1.1"/>
<text x="284.22" y="457.60" font-size="6.4" stroke="#333" stroke-width="0.16" text-anchor="middle" fill="#333" textLength="8.50" lengthAdjust="spacingAndGlyphs">0.8</text>
<line x1="297.20" y1="446.80" x2="297.20" y2="449.60" stroke="#111" stroke-width="1.1"/>
<text x="297.20" y="457.60" font-size="6.4" stroke="#333" stroke-width="0.16" text-anchor="middle" fill="#333" textLength="8.50" lengthAdjust="spacingAndGlyphs">1.0</text>
<text x="266.57" y="468.10" font-size="8.6" text-anchor="middle" font-weight="bold" fill="#1a1a1a" textLength="57.00" lengthAdjust="spacingAndGlyphs">Plating efficiency (%)</text>
<text x="226.10" y="408.65" font-size="6.6" stroke="#222" stroke-width="0.2" text-anchor="end" textLength="40.90" lengthAdjust="spacingAndGlyphs">iPSC clone-E2</text>
<text x="226.10" y="424.35" font-size="6.6" stroke="#222" stroke-width="0.2" text-anchor="end" textLength="40.90" lengthAdjust="spacingAndGlyphs">iPSC clone-E3</text>
<text x="226.10" y="440.15" font-size="6.6" stroke="#222" stroke-width="0.2" text-anchor="end" textLength="41.60" lengthAdjust="spacingAndGlyphs">iPSC clone-G1</text>
<line x1="334.80" y1="397.20" x2="334.80" y2="447.60" stroke="#111" stroke-width="1.4"/>
<line x1="334.10" y1="446.80" x2="400.40" y2="446.80" stroke="#111" stroke-width="1.6"/>
<rect x="335.40" y="401.30" width="37.04" height="10.10" fill="#c6d4c9"/>
<line x1="371.94" y1="406.35" x2="375.04" y2="406.35" stroke="#111" stroke-width="1.0"/>
<line x1="375.04" y1="403.95" x2="375.04" y2="408.75" stroke="#111" stroke-width="1.2"/>
<line x1="331.20" y1="406.35" x2="334.80" y2="406.35" stroke="#111" stroke-width="1.1"/>
<rect x="335.40" y="416.80" width="41.26" height="10.50" fill="#96ae9c"/>
<line x1="376.16" y1="422.05" x2="378.74" y2="422.05" stroke="#111" stroke-width="1.0"/>
<line x1="378.74" y1="419.65" x2="378.74" y2="424.45" stroke="#111" stroke-width="1.2"/>
<line x1="331.20" y1="422.05" x2="334.80" y2="422.05" stroke="#111" stroke-width="1.1"/>
<rect x="335.40" y="432.60" width="45.15" height="10.50" fill="#2f6b4b"/>
<line x1="380.05" y1="437.85" x2="384.77" y2="437.85" stroke="#111" stroke-width="1.0"/>
<line x1="384.77" y1="435.45" x2="384.77" y2="440.25" stroke="#111" stroke-width="1.2"/>
<line x1="331.20" y1="437.85" x2="334.80" y2="437.85" stroke="#111" stroke-width="1.1"/>
<line x1="334.80" y1="446.80" x2="334.80" y2="449.60" stroke="#111" stroke-width="1.1"/>
<text x="334.80" y="457.60" font-size="6.4" stroke="#333" stroke-width="0.16" text-anchor="middle" fill="#333" textLength="8.50" lengthAdjust="spacingAndGlyphs">0.0</text>
<line x1="347.78" y1="446.80" x2="347.78" y2="449.60" stroke="#111" stroke-width="1.1"/>
<text x="347.78" y="457.60" font-size="6.4" stroke="#333" stroke-width="0.16" text-anchor="middle" fill="#333" textLength="8.50" lengthAdjust="spacingAndGlyphs">0.2</text>
<line x1="360.76" y1="446.80" x2="360.76" y2="449.60" stroke="#111" stroke-width="1.1"/>
<text x="360.76" y="457.60" font-size="6.4" stroke="#333" stroke-width="0.16" text-anchor="middle" fill="#333" textLength="8.50" lengthAdjust="spacingAndGlyphs">0.4</text>
<line x1="373.74" y1="446.80" x2="373.74" y2="449.60" stroke="#111" stroke-width="1.1"/>
<text x="373.74" y="457.60" font-size="6.4" stroke="#333" stroke-width="0.16" text-anchor="middle" fill="#333" textLength="8.50" lengthAdjust="spacingAndGlyphs">0.6</text>
<line x1="386.72" y1="446.80" x2="386.72" y2="449.60" stroke="#111" stroke-width="1.1"/>
<text x="386.72" y="457.60" font-size="6.4" stroke="#333" stroke-width="0.16" text-anchor="middle" fill="#333" textLength="8.50" lengthAdjust="spacingAndGlyphs">0.8</text>
<line x1="399.70" y1="446.80" x2="399.70" y2="449.60" stroke="#111" stroke-width="1.1"/>
<text x="399.70" y="457.60" font-size="6.4" stroke="#333" stroke-width="0.16" text-anchor="middle" fill="#333" textLength="8.50" lengthAdjust="spacingAndGlyphs">1.0</text>
<text x="369.07" y="468.10" font-size="8.6" text-anchor="middle" font-weight="bold" fill="#1a1a1a" textLength="57.00" lengthAdjust="spacingAndGlyphs">Plating efficiency (%)</text>
<text x="329.10" y="408.65" font-size="6.6" stroke="#222" stroke-width="0.2" text-anchor="end" textLength="17.90" lengthAdjust="spacingAndGlyphs">WEHI</text>
<text x="329.10" y="424.35" font-size="6.6" stroke="#222" stroke-width="0.2" text-anchor="end" textLength="13.70" lengthAdjust="spacingAndGlyphs">OP9</text>
<text x="329.10" y="440.15" font-size="6.6" stroke="#222" stroke-width="0.2" text-anchor="end" textLength="24.30" lengthAdjust="spacingAndGlyphs">StemPro</text>
<line x1="444.00" y1="397.20" x2="444.00" y2="447.60" stroke="#111" stroke-width="1.4"/>
<line x1="443.30" y1="446.80" x2="508.70" y2="446.80" stroke="#111" stroke-width="1.6"/>
<rect x="444.60" y="401.30" width="43.50" height="10.10" fill="#a8062f"/>
<line x1="487.60" y1="406.35" x2="491.30" y2="406.35" stroke="#111" stroke-width="1.0"/>
<line x1="491.30" y1="403.95" x2="491.30" y2="408.75" stroke="#111" stroke-width="1.2"/>
<line x1="440.40" y1="406.35" x2="444.00" y2="406.35" stroke="#111" stroke-width="1.1"/>
<rect x="444.60" y="416.80" width="45.42" height="10.50" fill="#6aaa3c"/>
<line x1="489.52" y1="422.05" x2="494.24" y2="422.05" stroke="#111" stroke-width="1.0"/>
<line x1="494.24" y1="419.65" x2="494.24" y2="424.45" stroke="#111" stroke-width="1.2"/>
<line x1="440.40" y1="422.05" x2="444.00" y2="422.05" stroke="#111" stroke-width="1.1"/>
<rect x="444.60" y="432.60" width="41.90" height="10.50" fill="#6aa9de"/>
<line x1="486.00" y1="437.85" x2="489.38" y2="437.85" stroke="#111" stroke-width="1.0"/>
<line x1="489.38" y1="435.45" x2="489.38" y2="440.25" stroke="#111" stroke-width="1.2"/>
<line x1="440.40" y1="437.85" x2="444.00" y2="437.85" stroke="#111" stroke-width="1.1"/>
<line x1="444.00" y1="446.80" x2="444.00" y2="449.60" stroke="#111" stroke-width="1.1"/>
<text x="444.00" y="457.60" font-size="6.4" stroke="#333" stroke-width="0.16" text-anchor="middle" fill="#333" textLength="8.50" lengthAdjust="spacingAndGlyphs">0.0</text>
<line x1="456.80" y1="446.80" x2="456.80" y2="449.60" stroke="#111" stroke-width="1.1"/>
<text x="456.80" y="457.60" font-size="6.4" stroke="#333" stroke-width="0.16" text-anchor="middle" fill="#333" textLength="8.50" lengthAdjust="spacingAndGlyphs">0.2</text>
<line x1="469.60" y1="446.80" x2="469.60" y2="449.60" stroke="#111" stroke-width="1.1"/>
<text x="469.60" y="457.60" font-size="6.4" stroke="#333" stroke-width="0.16" text-anchor="middle" fill="#333" textLength="8.50" lengthAdjust="spacingAndGlyphs">0.4</text>
<line x1="482.40" y1="446.80" x2="482.40" y2="449.60" stroke="#111" stroke-width="1.1"/>
<text x="482.40" y="457.60" font-size="6.4" stroke="#333" stroke-width="0.16" text-anchor="middle" fill="#333" textLength="8.50" lengthAdjust="spacingAndGlyphs">0.6</text>
<line x1="495.20" y1="446.80" x2="495.20" y2="449.60" stroke="#111" stroke-width="1.1"/>
<text x="495.20" y="457.60" font-size="6.4" stroke="#333" stroke-width="0.16" text-anchor="middle" fill="#333" textLength="8.50" lengthAdjust="spacingAndGlyphs">0.8</text>
<line x1="508.00" y1="446.80" x2="508.00" y2="449.60" stroke="#111" stroke-width="1.1"/>
<text x="508.00" y="457.60" font-size="6.4" stroke="#333" stroke-width="0.16" text-anchor="middle" fill="#333" textLength="8.50" lengthAdjust="spacingAndGlyphs">1.0</text>
<text x="477.79" y="468.10" font-size="8.6" text-anchor="middle" font-weight="bold" fill="#1a1a1a" textLength="57.00" lengthAdjust="spacingAndGlyphs">Plating efficiency (%)</text>
<text x="438.00" y="408.65" font-size="6.6" stroke="#222" stroke-width="0.2" text-anchor="end" textLength="28.80" lengthAdjust="spacingAndGlyphs">6pLOH(+)</text>
<text x="438.00" y="424.35" font-size="6.6" text-anchor="end" font-style="italic" fill="#222" stroke="#222" stroke-width="0.2">B*40:02<tspan font-size="4.0" dy="-2.6">mut</tspan></text>
<text x="438.00" y="440.15" font-size="6.6" stroke="#222" stroke-width="0.2" text-anchor="end" textLength="26.10" lengthAdjust="spacingAndGlyphs">Wild-type</text>
<rect x="0.65" y="0.65" width="518.7" height="476.7" fill="none" stroke="#000" stroke-width="1.3"/>
</svg>
</body></html>
